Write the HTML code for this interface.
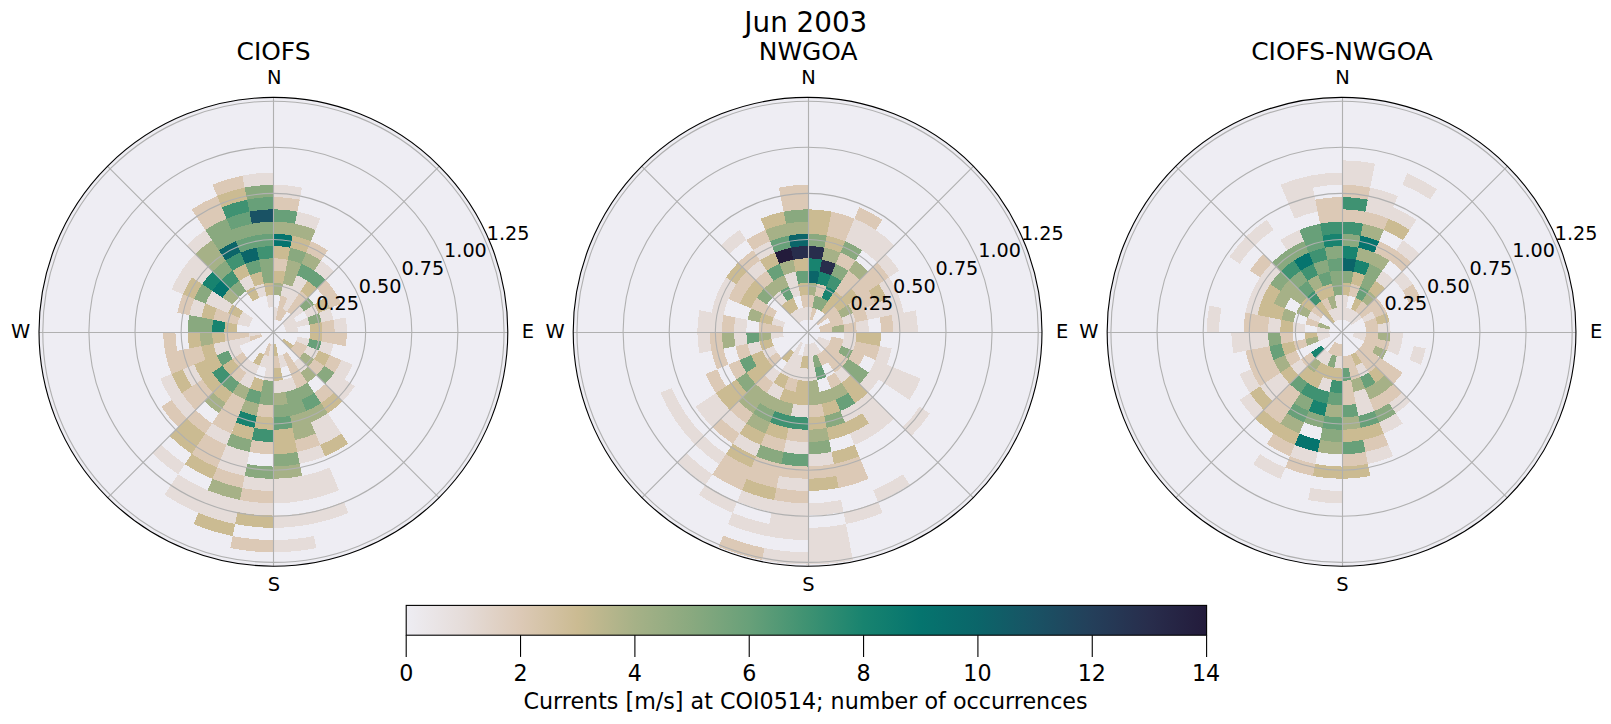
<!DOCTYPE html><html><head><meta charset="utf-8"><title>Jun 2003</title><style>html,body{margin:0;padding:0;background:#fff}svg{display:block}text{font-family:"DejaVu Sans","Liberation Sans",sans-serif;fill:#000}</style></head><body>
<svg width="1611" height="724" viewBox="0 0 1611 724">
<rect width="1611" height="724" fill="#fff"/>
<text x="805.8" y="31.8" font-size="27.78" text-anchor="middle">Jun 2003</text>
<g>
<text x="273.5" y="59.7" font-size="24.9" text-anchor="middle">CIOFS</text>
<circle cx="273.4" cy="331.8" r="234.4" fill="#eeedf3"/>
<g shape-rendering="crispEdges">
<path fill="#e5dcd9" d="M273.40,319.55L273.40,307.30A24.50,24.50 0 0 1 278.18,307.77L275.79,319.79A12.25,12.25 0 0 0 273.40,319.55ZM273.40,197.05L273.40,184.80A147.00,147.00 0 0 1 302.08,187.62L299.69,199.64A134.75,134.75 0 0 0 273.40,197.05ZM280.57,295.76L282.96,283.74A49.00,49.00 0 0 1 292.15,286.53L287.46,297.85A36.75,36.75 0 0 0 280.57,295.76ZM294.91,223.67L297.30,211.65A122.50,122.50 0 0 1 320.28,218.62L315.59,229.94A110.25,110.25 0 0 0 294.91,223.67ZM282.78,309.16L296.84,275.21A61.25,61.25 0 0 1 307.43,280.87L287.01,311.43A24.50,24.50 0 0 0 282.78,309.16ZM314.23,270.69L321.04,260.50A85.75,85.75 0 0 1 334.03,271.17L325.37,279.83A73.50,73.50 0 0 0 314.23,270.69ZM282.06,323.14L299.39,305.81A36.75,36.75 0 0 1 303.96,311.38L283.59,324.99A12.25,12.25 0 0 0 282.06,323.14ZM283.59,324.99L293.77,318.19A24.50,24.50 0 0 1 296.04,322.42L284.72,327.11A12.25,12.25 0 0 0 283.59,324.99ZM303.96,311.38L314.14,304.58A49.00,49.00 0 0 1 318.67,313.05L307.35,317.74A36.75,36.75 0 0 0 303.96,311.38ZM284.72,327.11L307.35,317.74A36.75,36.75 0 0 1 309.44,324.63L285.41,329.41A12.25,12.25 0 0 0 284.72,327.11ZM318.67,313.05L329.99,308.36A61.25,61.25 0 0 1 333.47,319.85L321.46,322.24A49.00,49.00 0 0 0 318.67,313.05ZM285.41,329.41L297.43,327.02A24.50,24.50 0 0 1 297.90,331.80L285.65,331.80A12.25,12.25 0 0 0 285.41,329.41ZM333.47,319.85L345.49,317.46A73.50,73.50 0 0 1 346.90,331.80L334.65,331.80A61.25,61.25 0 0 0 333.47,319.85ZM297.43,336.58L309.44,338.97A36.75,36.75 0 0 1 307.35,345.86L296.04,341.18A24.50,24.50 0 0 0 297.43,336.58ZM321.46,341.36L333.47,343.75A61.25,61.25 0 0 1 329.99,355.24L318.67,350.55A49.00,49.00 0 0 0 321.46,341.36ZM307.35,345.86L318.67,350.55A49.00,49.00 0 0 1 314.14,359.02L303.96,352.22A36.75,36.75 0 0 0 307.35,345.86ZM341.31,359.93L352.62,364.62A85.75,85.75 0 0 1 344.70,379.44L334.51,372.63A73.50,73.50 0 0 0 341.31,359.93ZM334.51,372.63L354.88,386.25A98.00,98.00 0 0 1 342.70,401.10L325.37,383.77A73.50,73.50 0 0 0 334.51,372.63ZM299.39,357.79L308.05,366.45A49.00,49.00 0 0 1 300.62,372.54L293.82,362.36A36.75,36.75 0 0 0 299.39,357.79ZM327.85,413.28L341.46,433.66A122.50,122.50 0 0 1 320.28,444.98L310.90,422.34A98.00,98.00 0 0 0 327.85,413.28ZM282.78,354.44L287.46,365.75A36.75,36.75 0 0 1 280.57,367.84L278.18,355.83A24.50,24.50 0 0 0 282.78,354.44ZM292.15,377.07L296.84,388.39A61.25,61.25 0 0 1 285.35,391.87L282.96,379.86A49.00,49.00 0 0 0 292.15,377.07ZM320.28,444.98L324.97,456.29A134.75,134.75 0 0 1 299.69,463.96L297.30,451.95A122.50,122.50 0 0 0 320.28,444.98ZM329.65,467.61L339.03,490.25A171.50,171.50 0 0 1 306.86,500.00L302.08,475.98A147.00,147.00 0 0 0 329.65,467.61ZM343.72,501.56L348.41,512.88A196.00,196.00 0 0 1 311.64,524.03L309.25,512.02A183.75,183.75 0 0 0 343.72,501.56ZM282.96,379.86L285.35,391.87A61.25,61.25 0 0 1 273.40,393.05L273.40,380.80A49.00,49.00 0 0 0 282.96,379.86ZM302.08,475.98L306.86,500.00A171.50,171.50 0 0 1 273.40,503.30L273.40,478.80A147.00,147.00 0 0 0 302.08,475.98ZM309.25,512.02L311.64,524.03A196.00,196.00 0 0 1 273.40,527.80L273.40,515.55A183.75,183.75 0 0 0 309.25,512.02ZM314.03,536.05L316.42,548.06A220.50,220.50 0 0 1 273.40,552.30L273.40,540.05A208.25,208.25 0 0 0 314.03,536.05ZM273.40,344.05L273.40,380.80A49.00,49.00 0 0 1 263.84,379.86L271.01,343.81A12.25,12.25 0 0 0 273.40,344.05ZM273.40,478.80L273.40,491.05A159.25,159.25 0 0 1 242.33,487.99L244.72,475.98A147.00,147.00 0 0 0 273.40,478.80ZM273.40,503.30L273.40,515.55A183.75,183.75 0 0 1 237.55,512.02L239.94,500.00A171.50,171.50 0 0 0 273.40,503.30ZM268.62,355.83L266.23,367.84A36.75,36.75 0 0 1 259.34,365.75L264.02,354.44A24.50,24.50 0 0 0 268.62,355.83ZM249.50,451.95L244.72,475.98A147.00,147.00 0 0 1 217.15,467.61L226.52,444.98A122.50,122.50 0 0 0 249.50,451.95ZM239.94,500.00L235.16,524.03A196.00,196.00 0 0 1 198.39,512.88L207.77,490.25A171.50,171.50 0 0 0 239.94,500.00ZM259.34,365.75L249.96,388.39A61.25,61.25 0 0 1 239.37,382.73L252.98,362.36A36.75,36.75 0 0 0 259.34,365.75ZM231.21,433.66L226.52,444.98A122.50,122.50 0 0 1 205.34,433.66L212.15,423.47A110.25,110.25 0 0 0 231.21,433.66ZM207.77,490.25L198.39,512.88A196.00,196.00 0 0 1 164.51,494.77L178.12,474.40A171.50,171.50 0 0 0 207.77,490.25ZM252.98,362.36L246.18,372.54A49.00,49.00 0 0 1 238.75,366.45L247.41,357.79A36.75,36.75 0 0 0 252.98,362.36ZM184.93,464.21L178.12,474.40A171.50,171.50 0 0 1 152.13,453.07L160.79,444.41A159.25,159.25 0 0 0 184.93,464.21ZM195.44,409.76L186.78,418.42A122.50,122.50 0 0 1 171.54,399.86L181.73,393.05A110.25,110.25 0 0 0 195.44,409.76ZM242.84,352.22L232.66,359.02A49.00,49.00 0 0 1 228.13,350.55L239.45,345.86A36.75,36.75 0 0 0 242.84,352.22ZM202.10,379.44L191.92,386.25A98.00,98.00 0 0 1 182.86,369.30L194.18,364.62A85.75,85.75 0 0 0 202.10,379.44ZM181.73,393.05L171.54,399.86A122.50,122.50 0 0 1 160.22,378.68L171.54,373.99A110.25,110.25 0 0 0 181.73,393.05ZM250.76,341.18L216.81,355.24A61.25,61.25 0 0 1 213.33,343.75L249.37,336.58A24.50,24.50 0 0 0 250.76,341.18ZM261.39,334.19L249.37,336.58A24.50,24.50 0 0 1 248.90,331.80L261.15,331.80A12.25,12.25 0 0 0 261.39,334.19ZM249.37,327.02L237.36,324.63A36.75,36.75 0 0 1 239.45,317.74L250.76,322.42A24.50,24.50 0 0 0 249.37,327.02ZM201.31,317.46L189.30,315.07A85.75,85.75 0 0 1 194.18,298.98L205.49,303.67A73.50,73.50 0 0 0 201.31,317.46ZM250.76,322.42L239.45,317.74A36.75,36.75 0 0 1 242.84,311.38L253.03,318.19A24.50,24.50 0 0 0 250.76,322.42ZM228.13,313.05L205.49,303.67A73.50,73.50 0 0 1 212.29,290.97L232.66,304.58A49.00,49.00 0 0 0 228.13,313.05ZM182.86,294.30L171.54,289.61A110.25,110.25 0 0 1 181.73,270.55L191.92,277.35A98.00,98.00 0 0 0 182.86,294.30ZM202.10,284.16L181.73,270.55A110.25,110.25 0 0 1 195.44,253.84L212.77,271.17A85.75,85.75 0 0 0 202.10,284.16ZM195.44,253.84L186.78,245.18A122.50,122.50 0 0 1 205.34,229.94L212.15,240.13A110.25,110.25 0 0 0 195.44,253.84ZM246.18,291.06L239.37,280.87A61.25,61.25 0 0 1 249.96,275.21L254.65,286.53A49.00,49.00 0 0 0 246.18,291.06ZM259.34,297.85L254.65,286.53A49.00,49.00 0 0 1 263.84,283.74L266.23,295.76A36.75,36.75 0 0 0 259.34,297.85ZM268.62,307.77L266.23,295.76A36.75,36.75 0 0 1 273.40,295.05L273.40,307.30A24.50,24.50 0 0 0 268.62,307.77ZM244.72,187.62L242.33,175.61A159.25,159.25 0 0 1 273.40,172.55L273.40,184.80A147.00,147.00 0 0 0 244.72,187.62Z"/>
<path fill="#dcc9b6" d="M273.40,270.55L273.40,258.30A73.50,73.50 0 0 1 287.74,259.71L285.35,271.73A61.25,61.25 0 0 0 273.40,270.55ZM273.40,209.30L273.40,197.05A134.75,134.75 0 0 1 299.69,199.64L297.30,211.65A122.50,122.50 0 0 0 273.40,209.30ZM275.79,319.79L280.57,295.76A36.75,36.75 0 0 1 287.46,297.85L278.09,320.48A12.25,12.25 0 0 0 275.79,319.79ZM278.09,320.48L282.78,309.16A24.50,24.50 0 0 1 287.01,311.43L280.21,321.61A12.25,12.25 0 0 0 278.09,320.48ZM306.22,252.58L310.90,241.26A98.00,98.00 0 0 1 327.85,250.32L321.04,260.50A85.75,85.75 0 0 0 306.22,252.58ZM287.01,311.43L300.62,291.06A49.00,49.00 0 0 1 308.05,297.15L290.72,314.48A24.50,24.50 0 0 0 287.01,311.43ZM316.71,288.49L325.37,279.83A73.50,73.50 0 0 1 334.51,290.97L324.33,297.77A61.25,61.25 0 0 0 316.71,288.49ZM324.33,297.77L334.51,290.97A73.50,73.50 0 0 1 341.31,303.67L329.99,308.36A61.25,61.25 0 0 0 324.33,297.77ZM321.46,322.24L333.47,319.85A61.25,61.25 0 0 1 334.65,331.80L322.40,331.80A49.00,49.00 0 0 0 321.46,322.24ZM322.40,331.80L346.90,331.80A73.50,73.50 0 0 1 345.49,346.14L321.46,341.36A49.00,49.00 0 0 0 322.40,331.80ZM296.04,341.18L307.35,345.86A36.75,36.75 0 0 1 303.96,352.22L293.77,345.41A24.50,24.50 0 0 0 296.04,341.18ZM329.99,355.24L341.31,359.93A73.50,73.50 0 0 1 334.51,372.63L324.33,365.83A61.25,61.25 0 0 0 329.99,355.24ZM293.77,345.41L303.96,352.22A36.75,36.75 0 0 1 299.39,357.79L290.72,349.12A24.50,24.50 0 0 0 293.77,345.41ZM314.14,359.02L324.33,365.83A61.25,61.25 0 0 1 316.71,375.11L308.05,366.45A49.00,49.00 0 0 0 314.14,359.02ZM325.37,383.77L334.03,392.43A85.75,85.75 0 0 1 321.04,403.10L314.23,392.91A73.50,73.50 0 0 0 325.37,383.77ZM287.01,352.17L307.43,382.73A61.25,61.25 0 0 1 296.84,388.39L282.78,354.44A24.50,24.50 0 0 0 287.01,352.17ZM315.59,433.66L320.28,444.98A122.50,122.50 0 0 1 297.30,451.95L294.91,439.93A110.25,110.25 0 0 0 315.59,433.66ZM278.18,355.83L280.57,367.84A36.75,36.75 0 0 1 273.40,368.55L273.40,356.30A24.50,24.50 0 0 0 278.18,355.83ZM273.40,405.30L273.40,417.55A85.75,85.75 0 0 1 256.67,415.90L259.06,403.89A73.50,73.50 0 0 0 273.40,405.30ZM273.40,442.05L273.40,454.30A122.50,122.50 0 0 1 249.50,451.95L251.89,439.93A110.25,110.25 0 0 0 273.40,442.05ZM273.40,491.05L273.40,503.30A171.50,171.50 0 0 1 239.94,500.00L242.33,487.99A159.25,159.25 0 0 0 273.40,491.05ZM273.40,540.05L273.40,552.30A220.50,220.50 0 0 1 230.38,548.06L232.77,536.05A208.25,208.25 0 0 0 273.40,540.05ZM271.01,343.81L268.62,355.83A24.50,24.50 0 0 1 264.02,354.44L268.71,343.12A12.25,12.25 0 0 0 271.01,343.81ZM244.72,475.98L242.33,487.99A159.25,159.25 0 0 1 212.46,478.93L217.15,467.61A147.00,147.00 0 0 0 244.72,475.98ZM245.27,399.71L231.21,433.66A110.25,110.25 0 0 1 212.15,423.47L232.57,392.91A73.50,73.50 0 0 0 245.27,399.71ZM226.52,444.98L217.15,467.61A147.00,147.00 0 0 1 191.73,454.03L205.34,433.66A122.50,122.50 0 0 0 226.52,444.98ZM246.18,372.54L239.37,382.73A61.25,61.25 0 0 1 230.09,375.11L238.75,366.45A49.00,49.00 0 0 0 246.18,372.54ZM212.15,423.47L205.34,433.66A122.50,122.50 0 0 1 186.78,418.42L195.44,409.76A110.25,110.25 0 0 0 212.15,423.47ZM247.41,357.79L238.75,366.45A49.00,49.00 0 0 1 232.66,359.02L242.84,352.22A36.75,36.75 0 0 0 247.41,357.79ZM212.77,392.43L195.44,409.76A110.25,110.25 0 0 1 181.73,393.05L202.10,379.44A85.75,85.75 0 0 0 212.77,392.43ZM186.78,418.42L178.12,427.08A134.75,134.75 0 0 1 161.36,406.66L171.54,399.86A122.50,122.50 0 0 0 186.78,418.42ZM262.08,336.49L250.76,341.18A24.50,24.50 0 0 1 249.37,336.58L261.39,334.19A12.25,12.25 0 0 0 262.08,336.49ZM205.49,359.93L171.54,373.99A110.25,110.25 0 0 1 165.27,353.31L201.31,346.14A73.50,73.50 0 0 0 205.49,359.93ZM249.37,336.58L225.34,341.36A49.00,49.00 0 0 1 224.40,331.80L248.90,331.80A24.50,24.50 0 0 0 249.37,336.58ZM177.28,350.92L165.27,353.31A110.25,110.25 0 0 1 163.15,331.80L175.40,331.80A98.00,98.00 0 0 0 177.28,350.92ZM237.36,324.63L213.33,319.85A61.25,61.25 0 0 1 216.81,308.36L239.45,317.74A36.75,36.75 0 0 0 237.36,324.63ZM189.30,315.07L177.28,312.68A98.00,98.00 0 0 1 182.86,294.30L194.18,298.98A85.75,85.75 0 0 0 189.30,315.07ZM205.34,229.94L191.73,209.57A147.00,147.00 0 0 1 217.15,195.99L226.52,218.62A122.50,122.50 0 0 0 205.34,229.94ZM217.15,195.99L212.46,184.67A159.25,159.25 0 0 1 242.33,175.61L244.72,187.62A147.00,147.00 0 0 0 217.15,195.99Z"/>
<path fill="#cbbb92" d="M273.40,282.80L273.40,270.55A61.25,61.25 0 0 1 285.35,271.73L282.96,283.74A49.00,49.00 0 0 0 273.40,282.80ZM273.40,258.30L273.40,246.05A85.75,85.75 0 0 1 290.13,247.70L287.74,259.71A73.50,73.50 0 0 0 273.40,258.30ZM290.13,247.70L292.52,235.68A98.00,98.00 0 0 1 310.90,241.26L306.22,252.58A85.75,85.75 0 0 0 290.13,247.70ZM300.62,291.06L307.43,280.87A61.25,61.25 0 0 1 316.71,288.49L308.05,297.15A49.00,49.00 0 0 0 300.62,291.06ZM314.14,304.58L324.33,297.77A61.25,61.25 0 0 1 329.99,308.36L318.67,313.05A49.00,49.00 0 0 0 314.14,304.58ZM309.44,324.63L321.46,322.24A49.00,49.00 0 0 1 322.40,331.80L310.15,331.80A36.75,36.75 0 0 0 309.44,324.63ZM310.15,331.80L322.40,331.80A49.00,49.00 0 0 1 321.46,341.36L309.44,338.97A36.75,36.75 0 0 0 310.15,331.80ZM318.67,350.55L329.99,355.24A61.25,61.25 0 0 1 324.33,365.83L314.14,359.02A49.00,49.00 0 0 0 318.67,350.55ZM283.59,338.61L293.77,345.41A24.50,24.50 0 0 1 290.72,349.12L282.06,340.46A12.25,12.25 0 0 0 283.59,338.61ZM334.03,392.43L342.70,401.10A98.00,98.00 0 0 1 327.85,413.28L321.04,403.10A85.75,85.75 0 0 0 334.03,392.43ZM341.46,433.66L348.26,443.84A134.75,134.75 0 0 1 324.97,456.29L320.28,444.98A122.50,122.50 0 0 0 341.46,433.66ZM275.79,343.81L278.18,355.83A24.50,24.50 0 0 1 273.40,356.30L273.40,344.05A12.25,12.25 0 0 0 275.79,343.81ZM280.57,367.84L282.96,379.86A49.00,49.00 0 0 1 273.40,380.80L273.40,368.55A36.75,36.75 0 0 0 280.57,367.84ZM292.52,427.92L297.30,451.95A122.50,122.50 0 0 1 273.40,454.30L273.40,429.80A98.00,98.00 0 0 0 292.52,427.92ZM273.40,417.55L273.40,429.80A98.00,98.00 0 0 1 254.28,427.92L256.67,415.90A85.75,85.75 0 0 0 273.40,417.55ZM273.40,515.55L273.40,527.80A196.00,196.00 0 0 1 235.16,524.03L237.55,512.02A183.75,183.75 0 0 0 273.40,515.55ZM263.84,379.86L261.45,391.87A61.25,61.25 0 0 1 249.96,388.39L254.65,377.07A49.00,49.00 0 0 0 263.84,379.86ZM254.28,427.92L251.89,439.93A110.25,110.25 0 0 1 231.21,433.66L235.90,422.34A98.00,98.00 0 0 0 254.28,427.92ZM235.16,524.03L232.77,536.05A208.25,208.25 0 0 1 193.71,524.20L198.39,512.88A196.00,196.00 0 0 0 235.16,524.03ZM264.02,354.44L259.34,365.75A36.75,36.75 0 0 1 252.98,362.36L259.79,352.17A24.50,24.50 0 0 0 264.02,354.44ZM217.15,467.61L212.46,478.93A159.25,159.25 0 0 1 184.93,464.21L191.73,454.03A147.00,147.00 0 0 0 217.15,467.61ZM232.57,392.91L225.76,403.10A85.75,85.75 0 0 1 212.77,392.43L221.43,383.77A73.50,73.50 0 0 0 232.57,392.91ZM205.34,433.66L191.73,454.03A147.00,147.00 0 0 1 169.46,435.74L186.78,418.42A122.50,122.50 0 0 0 205.34,433.66ZM238.75,366.45L230.09,375.11A61.25,61.25 0 0 1 222.47,365.83L232.66,359.02A49.00,49.00 0 0 0 238.75,366.45ZM221.43,383.77L212.77,392.43A85.75,85.75 0 0 1 202.10,379.44L212.29,372.63A73.50,73.50 0 0 0 221.43,383.77ZM222.47,365.83L202.10,379.44A85.75,85.75 0 0 1 194.18,364.62L216.81,355.24A61.25,61.25 0 0 0 222.47,365.83ZM191.92,386.25L181.73,393.05A110.25,110.25 0 0 1 171.54,373.99L182.86,369.30A98.00,98.00 0 0 0 191.92,386.25ZM216.81,355.24L205.49,359.93A73.50,73.50 0 0 1 201.31,346.14L213.33,343.75A61.25,61.25 0 0 0 216.81,355.24ZM225.34,341.36L213.33,343.75A61.25,61.25 0 0 1 212.15,331.80L224.40,331.80A49.00,49.00 0 0 0 225.34,341.36ZM201.31,346.14L189.30,348.53A85.75,85.75 0 0 1 187.65,331.80L199.90,331.80A73.50,73.50 0 0 0 201.31,346.14ZM236.65,331.80L224.40,331.80A49.00,49.00 0 0 1 225.34,322.24L237.36,324.63A36.75,36.75 0 0 0 236.65,331.80ZM213.33,319.85L201.31,317.46A73.50,73.50 0 0 1 205.49,303.67L216.81,308.36A61.25,61.25 0 0 0 213.33,319.85ZM239.45,317.74L228.13,313.05A49.00,49.00 0 0 1 232.66,304.58L242.84,311.38A36.75,36.75 0 0 0 239.45,317.74ZM194.18,298.98L182.86,294.30A98.00,98.00 0 0 1 191.92,277.35L202.10,284.16A85.75,85.75 0 0 0 194.18,298.98ZM252.98,301.24L246.18,291.06A49.00,49.00 0 0 1 254.65,286.53L259.34,297.85A36.75,36.75 0 0 0 252.98,301.24ZM239.37,280.87L232.57,270.69A73.50,73.50 0 0 1 245.27,263.89L249.96,275.21A61.25,61.25 0 0 0 239.37,280.87ZM254.65,286.53L249.96,275.21A61.25,61.25 0 0 1 261.45,271.73L263.84,283.74A49.00,49.00 0 0 0 254.65,286.53ZM221.83,207.31L217.15,195.99A147.00,147.00 0 0 1 244.72,187.62L247.11,199.64A134.75,134.75 0 0 0 221.83,207.31ZM266.23,295.76L263.84,283.74A49.00,49.00 0 0 1 273.40,282.80L273.40,295.05A36.75,36.75 0 0 0 266.23,295.76Z"/>
<path fill="#a6b187" d="M273.40,295.05L273.40,282.80A49.00,49.00 0 0 1 282.96,283.74L280.57,295.76A36.75,36.75 0 0 0 273.40,295.05ZM273.40,233.80L273.40,221.55A110.25,110.25 0 0 1 294.91,223.67L292.52,235.68A98.00,98.00 0 0 0 273.40,233.80ZM282.96,283.74L287.74,259.71A73.50,73.50 0 0 1 301.53,263.89L292.15,286.53A49.00,49.00 0 0 0 282.96,283.74ZM292.52,235.68L294.91,223.67A110.25,110.25 0 0 1 315.59,229.94L310.90,241.26A98.00,98.00 0 0 0 292.52,235.68ZM301.53,263.89L306.22,252.58A85.75,85.75 0 0 1 321.04,260.50L314.23,270.69A73.50,73.50 0 0 0 301.53,263.89ZM303.96,352.22L314.14,359.02A49.00,49.00 0 0 1 308.05,366.45L299.39,357.79A36.75,36.75 0 0 0 303.96,352.22ZM308.05,366.45L316.71,375.11A61.25,61.25 0 0 1 307.43,382.73L300.62,372.54A49.00,49.00 0 0 0 308.05,366.45ZM321.04,403.10L327.85,413.28A98.00,98.00 0 0 1 310.90,422.34L306.22,411.02A85.75,85.75 0 0 0 321.04,403.10ZM306.22,411.02L315.59,433.66A110.25,110.25 0 0 1 294.91,439.93L290.13,415.90A85.75,85.75 0 0 0 306.22,411.02ZM285.35,391.87L287.74,403.89A73.50,73.50 0 0 1 273.40,405.30L273.40,393.05A61.25,61.25 0 0 0 285.35,391.87ZM299.69,463.96L302.08,475.98A147.00,147.00 0 0 1 273.40,478.80L273.40,466.55A134.75,134.75 0 0 0 299.69,463.96ZM259.06,403.89L256.67,415.90A85.75,85.75 0 0 1 240.58,411.02L245.27,399.71A73.50,73.50 0 0 0 259.06,403.89ZM242.33,487.99L239.94,500.00A171.50,171.50 0 0 1 207.77,490.25L212.46,478.93A159.25,159.25 0 0 0 242.33,487.99ZM249.96,388.39L245.27,399.71A73.50,73.50 0 0 1 232.57,392.91L239.37,382.73A61.25,61.25 0 0 0 249.96,388.39ZM225.76,403.10L218.95,413.28A98.00,98.00 0 0 1 204.10,401.10L212.77,392.43A85.75,85.75 0 0 0 225.76,403.10ZM213.33,343.75L201.31,346.14A73.50,73.50 0 0 1 199.90,331.80L212.15,331.80A61.25,61.25 0 0 0 213.33,343.75ZM232.66,304.58L222.47,297.77A61.25,61.25 0 0 1 230.09,288.49L238.75,297.15A49.00,49.00 0 0 0 232.66,304.58ZM212.77,271.17L195.44,253.84A110.25,110.25 0 0 1 212.15,240.13L225.76,260.50A85.75,85.75 0 0 0 212.77,271.17Z"/>
<path fill="#89a97f" d="M287.74,259.71L290.13,247.70A85.75,85.75 0 0 1 306.22,252.58L301.53,263.89A73.50,73.50 0 0 0 287.74,259.71ZM299.39,305.81L308.05,297.15A49.00,49.00 0 0 1 314.14,304.58L303.96,311.38A36.75,36.75 0 0 0 299.39,305.81ZM307.35,317.74L318.67,313.05A49.00,49.00 0 0 1 321.46,322.24L309.44,324.63A36.75,36.75 0 0 0 307.35,317.74ZM324.33,365.83L334.51,372.63A73.50,73.50 0 0 1 325.37,383.77L316.71,375.11A61.25,61.25 0 0 0 324.33,365.83ZM307.43,382.73L314.23,392.91A73.50,73.50 0 0 1 301.53,399.71L296.84,388.39A61.25,61.25 0 0 0 307.43,382.73ZM296.84,388.39L306.22,411.02A85.75,85.75 0 0 1 290.13,415.90L285.35,391.87A61.25,61.25 0 0 0 296.84,388.39ZM287.74,403.89L290.13,415.90A85.75,85.75 0 0 1 273.40,417.55L273.40,405.30A73.50,73.50 0 0 0 287.74,403.89ZM297.30,451.95L299.69,463.96A134.75,134.75 0 0 1 273.40,466.55L273.40,454.30A122.50,122.50 0 0 0 297.30,451.95ZM273.40,380.80L273.40,405.30A73.50,73.50 0 0 1 259.06,403.89L263.84,379.86A49.00,49.00 0 0 0 273.40,380.80ZM273.40,466.55L273.40,478.80A147.00,147.00 0 0 1 244.72,475.98L247.11,463.96A134.75,134.75 0 0 0 273.40,466.55ZM251.89,439.93L249.50,451.95A122.50,122.50 0 0 1 226.52,444.98L231.21,433.66A110.25,110.25 0 0 0 251.89,439.93ZM212.15,331.80L187.65,331.80A85.75,85.75 0 0 1 189.30,315.07L213.33,319.85A61.25,61.25 0 0 0 212.15,331.80ZM205.49,303.67L194.18,298.98A85.75,85.75 0 0 1 202.10,284.16L212.29,290.97A73.50,73.50 0 0 0 205.49,303.67ZM238.75,297.15L230.09,288.49A61.25,61.25 0 0 1 239.37,280.87L246.18,291.06A49.00,49.00 0 0 0 238.75,297.15ZM221.43,279.83L212.77,271.17A85.75,85.75 0 0 1 225.76,260.50L232.57,270.69A73.50,73.50 0 0 0 221.43,279.83ZM218.95,250.32L205.34,229.94A122.50,122.50 0 0 1 226.52,218.62L235.90,241.26A98.00,98.00 0 0 0 218.95,250.32ZM235.90,241.26L231.21,229.94A110.25,110.25 0 0 1 251.89,223.67L254.28,235.68A98.00,98.00 0 0 0 235.90,241.26ZM263.84,283.74L259.06,259.71A73.50,73.50 0 0 1 273.40,258.30L273.40,282.80A49.00,49.00 0 0 0 263.84,283.74ZM254.28,235.68L251.89,223.67A110.25,110.25 0 0 1 273.40,221.55L273.40,233.80A98.00,98.00 0 0 0 254.28,235.68ZM247.11,199.64L244.72,187.62A147.00,147.00 0 0 1 273.40,184.80L273.40,197.05A134.75,134.75 0 0 0 247.11,199.64Z"/>
<path fill="#68a079" d="M273.40,221.55L273.40,209.30A122.50,122.50 0 0 1 297.30,211.65L294.91,223.67A110.25,110.25 0 0 0 273.40,221.55ZM296.84,275.21L301.53,263.89A73.50,73.50 0 0 1 314.23,270.69L307.43,280.87A61.25,61.25 0 0 0 296.84,275.21ZM307.43,280.87L314.23,270.69A73.50,73.50 0 0 1 325.37,279.83L316.71,288.49A61.25,61.25 0 0 0 307.43,280.87ZM309.44,338.97L321.46,341.36A49.00,49.00 0 0 1 318.67,350.55L307.35,345.86A36.75,36.75 0 0 0 309.44,338.97ZM314.23,392.91L321.04,403.10A85.75,85.75 0 0 1 306.22,411.02L301.53,399.71A73.50,73.50 0 0 0 314.23,392.91ZM290.13,415.90L292.52,427.92A98.00,98.00 0 0 1 273.40,429.80L273.40,417.55A85.75,85.75 0 0 0 290.13,415.90ZM261.45,391.87L259.06,403.89A73.50,73.50 0 0 1 245.27,399.71L249.96,388.39A61.25,61.25 0 0 0 261.45,391.87ZM239.37,382.73L232.57,392.91A73.50,73.50 0 0 1 221.43,383.77L230.09,375.11A61.25,61.25 0 0 0 239.37,382.73ZM232.66,359.02L222.47,365.83A61.25,61.25 0 0 1 216.81,355.24L228.13,350.55A49.00,49.00 0 0 0 232.66,359.02ZM249.96,275.21L245.27,263.89A73.50,73.50 0 0 1 259.06,259.71L261.45,271.73A61.25,61.25 0 0 0 249.96,275.21ZM240.58,252.58L235.90,241.26A98.00,98.00 0 0 1 254.28,235.68L256.67,247.70A85.75,85.75 0 0 0 240.58,252.58ZM231.21,229.94L226.52,218.62A122.50,122.50 0 0 1 249.50,211.65L251.89,223.67A110.25,110.25 0 0 0 231.21,229.94ZM256.67,247.70L254.28,235.68A98.00,98.00 0 0 1 273.40,233.80L273.40,246.05A85.75,85.75 0 0 0 256.67,247.70ZM249.50,211.65L247.11,199.64A134.75,134.75 0 0 1 273.40,197.05L273.40,209.30A122.50,122.50 0 0 0 249.50,211.65Z"/>
<path fill="#3f9272" d="M273.40,429.80L273.40,442.05A110.25,110.25 0 0 1 251.89,439.93L254.28,427.92A98.00,98.00 0 0 0 273.40,429.80ZM230.09,375.11L221.43,383.77A73.50,73.50 0 0 1 212.29,372.63L222.47,365.83A61.25,61.25 0 0 0 230.09,375.11ZM230.09,288.49L221.43,279.83A73.50,73.50 0 0 1 232.57,270.69L239.37,280.87A61.25,61.25 0 0 0 230.09,288.49ZM232.57,270.69L225.76,260.50A85.75,85.75 0 0 1 240.58,252.58L245.27,263.89A73.50,73.50 0 0 0 232.57,270.69ZM226.52,218.62L221.83,207.31A134.75,134.75 0 0 1 247.11,199.64L249.50,211.65A122.50,122.50 0 0 0 226.52,218.62ZM259.06,259.71L256.67,247.70A85.75,85.75 0 0 1 273.40,246.05L273.40,258.30A73.50,73.50 0 0 0 259.06,259.71Z"/>
<path fill="#18836f" d="M256.67,415.90L254.28,427.92A98.00,98.00 0 0 1 235.90,422.34L240.58,411.02A85.75,85.75 0 0 0 256.67,415.90ZM224.40,331.80L212.15,331.80A61.25,61.25 0 0 1 213.33,319.85L225.34,322.24A49.00,49.00 0 0 0 224.40,331.80ZM212.29,290.97L202.10,284.16A85.75,85.75 0 0 1 212.77,271.17L221.43,279.83A73.50,73.50 0 0 0 212.29,290.97Z"/>
<path fill="#05746e" d="M273.40,246.05L273.40,233.80A98.00,98.00 0 0 1 292.52,235.68L290.13,247.70A85.75,85.75 0 0 0 273.40,246.05ZM222.47,297.77L212.29,290.97A73.50,73.50 0 0 1 221.43,279.83L230.09,288.49A61.25,61.25 0 0 0 222.47,297.77Z"/>
<path fill="#0b6569" d="M225.76,260.50L218.95,250.32A98.00,98.00 0 0 1 235.90,241.26L240.58,252.58A85.75,85.75 0 0 0 225.76,260.50ZM245.27,263.89L240.58,252.58A85.75,85.75 0 0 1 256.67,247.70L259.06,259.71A73.50,73.50 0 0 0 245.27,263.89Z"/>
<path fill="#195264" d="M251.89,223.67L249.50,211.65A122.50,122.50 0 0 1 273.40,209.30L273.40,221.55A110.25,110.25 0 0 0 251.89,223.67Z"/>
</g>
<path d="M273.5,331.8L273.5,97.40M273.4,332.2L439.15,166.45M273.4,332.45L507.80,332.45M273.4,332.2L439.15,497.95M273.5,331.8L273.5,566.20M273.4,332.2L107.65,497.95M273.4,332.45L39.00,332.45M273.4,332.2L107.65,166.45" stroke="#b0b0b0" stroke-width="1.1" fill="none"/>
<circle cx="273.4" cy="331.8" r="46.12" stroke="#b0b0b0" stroke-width="1.1" fill="none"/>
<circle cx="273.4" cy="331.8" r="92.25" stroke="#b0b0b0" stroke-width="1.1" fill="none"/>
<circle cx="273.4" cy="331.8" r="138.38" stroke="#b0b0b0" stroke-width="1.1" fill="none"/>
<circle cx="273.4" cy="331.8" r="184.50" stroke="#b0b0b0" stroke-width="1.1" fill="none"/>
<circle cx="273.4" cy="331.8" r="230.62" stroke="#b0b0b0" stroke-width="1.1" fill="none"/>
<circle cx="273.4" cy="331.8" r="234.4" stroke="#000" stroke-width="1.1" fill="none"/>
<text x="316.2" y="310.3" font-size="19.2">0.25</text>
<text x="358.8" y="292.7" font-size="19.2">0.50</text>
<text x="401.4" y="275.0" font-size="19.2">0.75</text>
<text x="444.1" y="257.4" font-size="19.2">1.00</text>
<text x="486.7" y="239.7" font-size="19.2">1.25</text>
<text x="274.3" y="83.9" font-size="19.44" text-anchor="middle">N</text>
<text x="273.9" y="590.9" font-size="19.44" text-anchor="middle">S</text>
<text x="521.8" y="337.6" font-size="19.44">E</text>
<text x="20.7" y="337.6" font-size="19.44" text-anchor="middle">W</text>
</g>
<g>
<text x="808.2" y="59.7" font-size="24.9" text-anchor="middle">NWGOA</text>
<circle cx="807.6" cy="331.8" r="234.4" fill="#eeedf3"/>
<g shape-rendering="crispEdges">
<path fill="#e5dcd9" d="M807.60,319.55L807.60,307.30A24.50,24.50 0 0 1 812.38,307.77L809.99,319.79A12.25,12.25 0 0 0 807.60,319.55ZM845.10,241.26L854.48,218.62A122.50,122.50 0 0 1 875.66,229.94L862.05,250.32A98.00,98.00 0 0 0 845.10,241.26ZM862.05,250.32L875.66,229.94A122.50,122.50 0 0 1 894.22,245.18L876.90,262.50A98.00,98.00 0 0 0 862.05,250.32ZM876.90,262.50L885.56,253.84A110.25,110.25 0 0 1 899.27,270.55L889.08,277.35A98.00,98.00 0 0 0 876.90,262.50ZM878.90,284.16L889.08,277.35A98.00,98.00 0 0 1 898.14,294.30L886.82,298.98A85.75,85.75 0 0 0 878.90,284.16ZM841.55,317.74L852.87,313.05A49.00,49.00 0 0 1 855.66,322.24L843.64,324.63A36.75,36.75 0 0 0 841.55,317.74ZM864.19,308.36L898.14,294.30A98.00,98.00 0 0 1 903.72,312.68L867.67,319.85A61.25,61.25 0 0 0 864.19,308.36ZM855.66,322.24L867.67,319.85A61.25,61.25 0 0 1 868.85,331.80L856.60,331.80A49.00,49.00 0 0 0 855.66,322.24ZM891.70,315.07L915.73,310.29A110.25,110.25 0 0 1 917.85,331.80L893.35,331.80A85.75,85.75 0 0 0 891.70,315.07ZM844.35,331.80L856.60,331.80A49.00,49.00 0 0 1 855.66,341.36L843.64,338.97A36.75,36.75 0 0 0 844.35,331.80ZM843.64,338.97L855.66,341.36A49.00,49.00 0 0 1 852.87,350.55L841.55,345.86A36.75,36.75 0 0 0 843.64,338.97ZM879.69,346.14L891.70,348.53A85.75,85.75 0 0 1 886.82,364.62L875.51,359.93A73.50,73.50 0 0 0 879.69,346.14ZM818.92,336.49L830.24,341.18A24.50,24.50 0 0 1 827.97,345.41L817.79,338.61A12.25,12.25 0 0 0 818.92,336.49ZM875.51,359.93L920.78,378.68A122.50,122.50 0 0 1 909.46,399.86L868.71,372.63A73.50,73.50 0 0 0 875.51,359.93ZM817.79,338.61L827.97,345.41A24.50,24.50 0 0 1 824.92,349.12L816.26,340.46A12.25,12.25 0 0 0 817.79,338.61ZM868.71,372.63L878.90,379.44A85.75,85.75 0 0 1 868.23,392.43L859.57,383.77A73.50,73.50 0 0 0 868.71,372.63ZM919.64,406.66L929.83,413.47A147.00,147.00 0 0 1 911.54,435.74L902.88,427.08A134.75,134.75 0 0 0 919.64,406.66ZM842.25,366.45L850.91,375.11A61.25,61.25 0 0 1 841.63,382.73L834.82,372.54A49.00,49.00 0 0 0 842.25,366.45ZM868.23,392.43L894.22,418.42A122.50,122.50 0 0 1 875.66,433.66L855.24,403.10A85.75,85.75 0 0 0 868.23,392.43ZM814.41,341.99L821.21,352.17A24.50,24.50 0 0 1 816.98,354.44L812.29,343.12A12.25,12.25 0 0 0 814.41,341.99ZM855.24,403.10L862.05,413.28A98.00,98.00 0 0 1 845.10,422.34L840.42,411.02A85.75,85.75 0 0 0 855.24,403.10ZM868.85,423.47L875.66,433.66A122.50,122.50 0 0 1 854.48,444.98L849.79,433.66A110.25,110.25 0 0 0 868.85,423.47ZM902.88,474.40L909.69,484.58A183.75,183.75 0 0 1 877.92,501.56L873.23,490.25A171.50,171.50 0 0 0 902.88,474.40ZM812.29,343.12L816.98,354.44A24.50,24.50 0 0 1 812.38,355.83L809.99,343.81A12.25,12.25 0 0 0 812.29,343.12ZM877.92,501.56L882.61,512.88A196.00,196.00 0 0 1 845.84,524.03L843.45,512.02A183.75,183.75 0 0 0 877.92,501.56ZM809.99,343.81L817.16,379.86A49.00,49.00 0 0 1 807.60,380.80L807.60,344.05A12.25,12.25 0 0 0 809.99,343.81ZM831.50,451.95L833.89,463.96A134.75,134.75 0 0 1 807.60,466.55L807.60,454.30A122.50,122.50 0 0 0 831.50,451.95ZM841.06,500.00L843.45,512.02A183.75,183.75 0 0 1 807.60,515.55L807.60,503.30A171.50,171.50 0 0 0 841.06,500.00ZM845.84,524.03L853.01,560.08A232.75,232.75 0 0 1 807.60,564.55L807.60,527.80A196.00,196.00 0 0 0 845.84,524.03ZM807.60,344.05L807.60,356.30A24.50,24.50 0 0 1 802.82,355.83L805.21,343.81A12.25,12.25 0 0 0 807.60,344.05ZM807.60,368.55L807.60,380.80A49.00,49.00 0 0 1 798.04,379.86L800.43,367.84A36.75,36.75 0 0 0 807.60,368.55ZM807.60,405.30L807.60,417.55A85.75,85.75 0 0 1 790.87,415.90L793.26,403.89A73.50,73.50 0 0 0 807.60,405.30ZM807.60,442.05L807.60,454.30A122.50,122.50 0 0 1 783.70,451.95L786.09,439.93A110.25,110.25 0 0 0 807.60,442.05ZM807.60,478.80L807.60,491.05A159.25,159.25 0 0 1 776.53,487.99L778.92,475.98A147.00,147.00 0 0 0 807.60,478.80ZM807.60,503.30L807.60,540.05A208.25,208.25 0 0 1 766.97,536.05L774.14,500.00A171.50,171.50 0 0 0 807.60,503.30ZM807.60,552.30L807.60,564.55A232.75,232.75 0 0 1 762.19,560.08L764.58,548.06A220.50,220.50 0 0 0 807.60,552.30ZM802.82,355.83L798.04,379.86A49.00,49.00 0 0 1 788.85,377.07L798.22,354.44A24.50,24.50 0 0 0 802.82,355.83ZM774.14,500.00L771.75,512.02A183.75,183.75 0 0 1 737.28,501.56L741.97,490.25A171.50,171.50 0 0 0 774.14,500.00ZM769.36,524.03L766.97,536.05A208.25,208.25 0 0 1 727.91,524.20L732.59,512.88A196.00,196.00 0 0 0 769.36,524.03ZM802.91,343.12L788.85,377.07A49.00,49.00 0 0 1 780.38,372.54L800.79,341.99A12.25,12.25 0 0 0 802.91,343.12ZM784.16,388.39L779.47,399.71A73.50,73.50 0 0 1 766.77,392.91L773.57,382.73A61.25,61.25 0 0 0 784.16,388.39ZM760.72,444.98L756.03,456.29A134.75,134.75 0 0 1 732.74,443.84L739.54,433.66A122.50,122.50 0 0 0 760.72,444.98ZM737.28,501.56L732.59,512.88A196.00,196.00 0 0 1 698.71,494.77L705.51,484.58A183.75,183.75 0 0 0 737.28,501.56ZM780.38,372.54L773.57,382.73A61.25,61.25 0 0 1 764.29,375.11L772.95,366.45A49.00,49.00 0 0 0 780.38,372.54ZM746.35,423.47L739.54,433.66A122.50,122.50 0 0 1 720.98,418.42L729.64,409.76A110.25,110.25 0 0 0 746.35,423.47ZM725.93,454.03L719.13,464.21A159.25,159.25 0 0 1 694.99,444.41L703.66,435.74A147.00,147.00 0 0 0 725.93,454.03ZM712.32,474.40L705.51,484.58A183.75,183.75 0 0 1 677.67,461.73L686.33,453.07A171.50,171.50 0 0 0 712.32,474.40ZM729.64,409.76L712.32,427.08A134.75,134.75 0 0 1 695.56,406.66L715.93,393.05A110.25,110.25 0 0 0 729.64,409.76ZM703.66,435.74L694.99,444.41A159.25,159.25 0 0 1 675.19,420.27L685.37,413.47A147.00,147.00 0 0 0 703.66,435.74ZM777.04,352.22L766.86,359.02A49.00,49.00 0 0 1 762.33,350.55L773.65,345.86A36.75,36.75 0 0 0 777.04,352.22ZM685.37,413.47L675.19,420.27A159.25,159.25 0 0 1 660.47,392.74L671.79,388.05A147.00,147.00 0 0 0 685.37,413.47ZM762.33,350.55L751.01,355.24A61.25,61.25 0 0 1 747.53,343.75L759.54,341.36A49.00,49.00 0 0 0 762.33,350.55ZM783.57,336.58L771.56,338.97A36.75,36.75 0 0 1 770.85,331.80L783.10,331.80A24.50,24.50 0 0 0 783.57,336.58ZM747.53,343.75L735.51,346.14A73.50,73.50 0 0 1 734.10,331.80L746.35,331.80A61.25,61.25 0 0 0 747.53,343.75ZM711.48,350.92L699.47,353.31A110.25,110.25 0 0 1 697.35,331.80L709.60,331.80A98.00,98.00 0 0 0 711.48,350.92ZM746.35,331.80L734.10,331.80A73.50,73.50 0 0 1 735.51,317.46L747.53,319.85A61.25,61.25 0 0 0 746.35,331.80ZM721.85,331.80L697.35,331.80A110.25,110.25 0 0 1 699.47,310.29L723.50,315.07A85.75,85.75 0 0 0 721.85,331.80ZM783.57,327.02L771.56,324.63A36.75,36.75 0 0 1 773.65,317.74L784.96,322.42A24.50,24.50 0 0 0 783.57,327.02ZM723.50,315.07L711.48,312.68A98.00,98.00 0 0 1 717.06,294.30L728.38,298.98A85.75,85.75 0 0 0 723.50,315.07ZM728.38,298.98L717.06,294.30A98.00,98.00 0 0 1 726.12,277.35L736.30,284.16A85.75,85.75 0 0 0 728.38,298.98ZM798.94,323.14L790.28,314.48A24.50,24.50 0 0 1 793.99,311.43L800.79,321.61A12.25,12.25 0 0 0 798.94,323.14ZM781.61,305.81L772.95,297.15A49.00,49.00 0 0 1 780.38,291.06L787.18,301.24A36.75,36.75 0 0 0 781.61,305.81ZM755.63,279.83L746.97,271.17A85.75,85.75 0 0 1 759.96,260.50L766.77,270.69A73.50,73.50 0 0 0 755.63,279.83ZM729.64,253.84L720.98,245.18A122.50,122.50 0 0 1 739.54,229.94L746.35,240.13A110.25,110.25 0 0 0 729.64,253.84ZM800.79,321.61L793.99,311.43A24.50,24.50 0 0 1 798.22,309.16L802.91,320.48A12.25,12.25 0 0 0 800.79,321.61ZM759.96,260.50L753.15,250.32A98.00,98.00 0 0 1 770.10,241.26L774.78,252.58A85.75,85.75 0 0 0 759.96,260.50ZM802.91,320.48L798.22,309.16A24.50,24.50 0 0 1 802.82,307.77L805.21,319.79A12.25,12.25 0 0 0 802.91,320.48ZM793.54,297.85L784.16,275.21A61.25,61.25 0 0 1 795.65,271.73L800.43,295.76A36.75,36.75 0 0 0 793.54,297.85ZM805.21,319.79L802.82,307.77A24.50,24.50 0 0 1 807.60,307.30L807.60,319.55A12.25,12.25 0 0 0 805.21,319.79Z"/>
<path fill="#dcc9b6" d="M807.60,307.30L807.60,295.05A36.75,36.75 0 0 1 814.77,295.76L812.38,307.77A24.50,24.50 0 0 0 807.60,307.30ZM809.99,319.79L812.38,307.77A24.50,24.50 0 0 1 816.98,309.16L812.29,320.48A12.25,12.25 0 0 0 809.99,319.79ZM814.77,295.76L817.16,283.74A49.00,49.00 0 0 1 826.35,286.53L821.66,297.85A36.75,36.75 0 0 0 814.77,295.76ZM826.72,235.68L831.50,211.65A122.50,122.50 0 0 1 854.48,218.62L845.10,241.26A98.00,98.00 0 0 0 826.72,235.68ZM835.73,263.89L840.42,252.58A85.75,85.75 0 0 1 855.24,260.50L848.43,270.69A73.50,73.50 0 0 0 835.73,263.89ZM854.48,218.62L859.17,207.31A134.75,134.75 0 0 1 882.46,219.76L875.66,229.94A122.50,122.50 0 0 0 854.48,218.62ZM834.82,291.06L848.43,270.69A73.50,73.50 0 0 1 859.57,279.83L842.25,297.15A49.00,49.00 0 0 0 834.82,291.06ZM816.26,323.14L833.59,305.81A36.75,36.75 0 0 1 838.16,311.38L817.79,324.99A12.25,12.25 0 0 0 816.26,323.14ZM850.91,288.49L876.90,262.50A98.00,98.00 0 0 1 889.08,277.35L858.53,297.77A61.25,61.25 0 0 0 850.91,288.49ZM827.97,318.19L838.16,311.38A36.75,36.75 0 0 1 841.55,317.74L830.24,322.42A24.50,24.50 0 0 0 827.97,318.19ZM848.34,304.58L868.71,290.97A73.50,73.50 0 0 1 875.51,303.67L852.87,313.05A49.00,49.00 0 0 0 848.34,304.58ZM818.92,327.11L841.55,317.74A36.75,36.75 0 0 1 843.64,324.63L819.61,329.41A12.25,12.25 0 0 0 818.92,327.11ZM852.87,313.05L864.19,308.36A61.25,61.25 0 0 1 867.67,319.85L855.66,322.24A49.00,49.00 0 0 0 852.87,313.05ZM819.61,329.41L831.63,327.02A24.50,24.50 0 0 1 832.10,331.80L819.85,331.80A12.25,12.25 0 0 0 819.61,329.41ZM843.64,324.63L855.66,322.24A49.00,49.00 0 0 1 856.60,331.80L844.35,331.80A36.75,36.75 0 0 0 843.64,324.63ZM879.69,317.46L891.70,315.07A85.75,85.75 0 0 1 893.35,331.80L881.10,331.80A73.50,73.50 0 0 0 879.69,317.46ZM831.63,336.58L843.64,338.97A36.75,36.75 0 0 1 841.55,345.86L830.24,341.18A24.50,24.50 0 0 0 831.63,336.58ZM855.66,341.36L879.69,346.14A73.50,73.50 0 0 1 875.51,359.93L852.87,350.55A49.00,49.00 0 0 0 855.66,341.36ZM830.24,341.18L841.55,345.86A36.75,36.75 0 0 1 838.16,352.22L827.97,345.41A24.50,24.50 0 0 0 830.24,341.18ZM852.87,350.55L864.19,355.24A61.25,61.25 0 0 1 858.53,365.83L848.34,359.02A49.00,49.00 0 0 0 852.87,350.55ZM827.97,345.41L848.34,359.02A49.00,49.00 0 0 1 842.25,366.45L824.92,349.12A24.50,24.50 0 0 0 827.97,345.41ZM824.92,349.12L842.25,366.45A49.00,49.00 0 0 1 834.82,372.54L821.21,352.17A24.50,24.50 0 0 0 824.92,349.12ZM821.21,352.17L828.02,362.36A36.75,36.75 0 0 1 821.66,365.75L816.98,354.44A24.50,24.50 0 0 0 821.21,352.17ZM834.82,372.54L841.63,382.73A61.25,61.25 0 0 1 831.04,388.39L826.35,377.07A49.00,49.00 0 0 0 834.82,372.54ZM859.17,456.29L868.54,478.93A159.25,159.25 0 0 1 838.67,487.99L833.89,463.96A134.75,134.75 0 0 0 859.17,456.29ZM821.94,403.89L824.33,415.90A85.75,85.75 0 0 1 807.60,417.55L807.60,405.30A73.50,73.50 0 0 0 821.94,403.89ZM833.89,463.96L836.28,475.98A147.00,147.00 0 0 1 807.60,478.80L807.60,466.55A134.75,134.75 0 0 0 833.89,463.96ZM807.60,429.80L807.60,442.05A110.25,110.25 0 0 1 786.09,439.93L788.48,427.92A98.00,98.00 0 0 0 807.60,429.80ZM807.60,466.55L807.60,478.80A147.00,147.00 0 0 1 778.92,475.98L781.31,463.96A134.75,134.75 0 0 0 807.60,466.55ZM807.60,491.05L807.60,503.30A171.50,171.50 0 0 1 774.14,500.00L776.53,487.99A159.25,159.25 0 0 0 807.60,491.05ZM798.04,379.86L795.65,391.87A61.25,61.25 0 0 1 784.16,388.39L788.85,377.07A49.00,49.00 0 0 0 798.04,379.86ZM786.09,439.93L783.70,451.95A122.50,122.50 0 0 1 760.72,444.98L765.41,433.66A110.25,110.25 0 0 0 786.09,439.93ZM781.31,463.96L776.53,487.99A159.25,159.25 0 0 1 746.66,478.93L756.03,456.29A134.75,134.75 0 0 0 781.31,463.96ZM764.58,548.06L762.19,560.08A232.75,232.75 0 0 1 718.53,546.83L723.22,535.52A220.50,220.50 0 0 0 764.58,548.06ZM751.35,467.61L741.97,490.25A171.50,171.50 0 0 1 712.32,474.40L725.93,454.03A147.00,147.00 0 0 0 751.35,467.61ZM773.57,382.73L766.77,392.91A73.50,73.50 0 0 1 755.63,383.77L764.29,375.11A61.25,61.25 0 0 0 773.57,382.73ZM753.15,413.28L746.35,423.47A110.25,110.25 0 0 1 729.64,409.76L738.30,401.10A98.00,98.00 0 0 0 753.15,413.28ZM739.54,433.66L732.74,443.84A134.75,134.75 0 0 1 712.32,427.08L720.98,418.42A122.50,122.50 0 0 0 739.54,433.66ZM781.61,357.79L772.95,366.45A49.00,49.00 0 0 1 766.86,359.02L777.04,352.22A36.75,36.75 0 0 0 781.61,357.79ZM746.49,372.63L736.30,379.44A85.75,85.75 0 0 1 728.38,364.62L739.69,359.93A73.50,73.50 0 0 0 746.49,372.63ZM726.12,386.25L715.93,393.05A110.25,110.25 0 0 1 705.74,373.99L717.06,369.30A98.00,98.00 0 0 0 726.12,386.25ZM751.01,355.24L739.69,359.93A73.50,73.50 0 0 1 735.51,346.14L747.53,343.75A61.25,61.25 0 0 0 751.01,355.24ZM728.38,364.62L717.06,369.30A98.00,98.00 0 0 1 711.48,350.92L723.50,348.53A85.75,85.75 0 0 0 728.38,364.62ZM723.50,348.53L711.48,350.92A98.00,98.00 0 0 1 709.60,331.80L721.85,331.80A85.75,85.75 0 0 0 723.50,348.53ZM783.10,331.80L758.60,331.80A49.00,49.00 0 0 1 759.54,322.24L783.57,327.02A24.50,24.50 0 0 0 783.10,331.80ZM734.10,331.80L721.85,331.80A85.75,85.75 0 0 1 723.50,315.07L735.51,317.46A73.50,73.50 0 0 0 734.10,331.80ZM773.65,317.74L751.01,308.36A61.25,61.25 0 0 1 756.67,297.77L777.04,311.38A36.75,36.75 0 0 0 773.65,317.74ZM739.69,303.67L728.38,298.98A85.75,85.75 0 0 1 736.30,284.16L746.49,290.97A73.50,73.50 0 0 0 739.69,303.67ZM746.49,290.97L736.30,284.16A85.75,85.75 0 0 1 746.97,271.17L755.63,279.83A73.50,73.50 0 0 0 746.49,290.97ZM764.29,288.49L755.63,279.83A73.50,73.50 0 0 1 766.77,270.69L773.57,280.87A61.25,61.25 0 0 0 764.29,288.49ZM746.97,271.17L738.30,262.50A98.00,98.00 0 0 1 753.15,250.32L759.96,260.50A85.75,85.75 0 0 0 746.97,271.17ZM753.15,250.32L746.35,240.13A110.25,110.25 0 0 1 765.41,229.94L770.10,241.26A98.00,98.00 0 0 0 753.15,250.32ZM802.82,307.77L800.43,295.76A36.75,36.75 0 0 1 807.60,295.05L807.60,307.30A24.50,24.50 0 0 0 802.82,307.77ZM783.70,211.65L778.92,187.62A147.00,147.00 0 0 1 807.60,184.80L807.60,209.30A122.50,122.50 0 0 0 783.70,211.65Z"/>
<path fill="#cbbb92" d="M807.60,233.80L807.60,209.30A122.50,122.50 0 0 1 831.50,211.65L826.72,235.68A98.00,98.00 0 0 0 807.60,233.80ZM824.33,247.70L826.72,235.68A98.00,98.00 0 0 1 845.10,241.26L840.42,252.58A85.75,85.75 0 0 0 824.33,247.70ZM821.21,311.43L834.82,291.06A49.00,49.00 0 0 1 842.25,297.15L824.92,314.48A24.50,24.50 0 0 0 821.21,311.43ZM833.59,305.81L850.91,288.49A61.25,61.25 0 0 1 858.53,297.77L838.16,311.38A36.75,36.75 0 0 0 833.59,305.81ZM868.71,290.97L878.90,284.16A85.75,85.75 0 0 1 886.82,298.98L875.51,303.67A73.50,73.50 0 0 0 868.71,290.97ZM856.60,331.80L881.10,331.80A73.50,73.50 0 0 1 879.69,346.14L855.66,341.36A49.00,49.00 0 0 0 856.60,331.80ZM850.91,375.11L868.23,392.43A85.75,85.75 0 0 1 855.24,403.10L841.63,382.73A61.25,61.25 0 0 0 850.91,375.11ZM862.05,413.28L868.85,423.47A110.25,110.25 0 0 1 849.79,433.66L845.10,422.34A98.00,98.00 0 0 0 862.05,413.28ZM835.73,399.71L840.42,411.02A85.75,85.75 0 0 1 824.33,415.90L821.94,403.89A73.50,73.50 0 0 0 835.73,399.71ZM845.10,422.34L849.79,433.66A110.25,110.25 0 0 1 829.11,439.93L826.72,427.92A98.00,98.00 0 0 0 845.10,422.34ZM854.48,444.98L859.17,456.29A134.75,134.75 0 0 1 833.89,463.96L831.50,451.95A122.50,122.50 0 0 0 854.48,444.98ZM824.33,415.90L826.72,427.92A98.00,98.00 0 0 1 807.60,429.80L807.60,417.55A85.75,85.75 0 0 0 824.33,415.90ZM836.28,475.98L838.67,487.99A159.25,159.25 0 0 1 807.60,491.05L807.60,478.80A147.00,147.00 0 0 0 836.28,475.98ZM807.60,356.30L807.60,368.55A36.75,36.75 0 0 1 800.43,367.84L802.82,355.83A24.50,24.50 0 0 0 807.60,356.30ZM807.60,380.80L807.60,405.30A73.50,73.50 0 0 1 793.26,403.89L798.04,379.86A49.00,49.00 0 0 0 807.60,380.80ZM795.65,391.87L793.26,403.89A73.50,73.50 0 0 1 779.47,399.71L784.16,388.39A61.25,61.25 0 0 0 795.65,391.87ZM788.48,427.92L786.09,439.93A110.25,110.25 0 0 1 765.41,433.66L770.10,422.34A98.00,98.00 0 0 0 788.48,427.92ZM776.53,487.99L774.14,500.00A171.50,171.50 0 0 1 741.97,490.25L746.66,478.93A159.25,159.25 0 0 0 776.53,487.99ZM788.85,377.07L784.16,388.39A61.25,61.25 0 0 1 773.57,382.73L780.38,372.54A49.00,49.00 0 0 0 788.85,377.07ZM765.41,433.66L760.72,444.98A122.50,122.50 0 0 1 739.54,433.66L746.35,423.47A110.25,110.25 0 0 0 765.41,433.66ZM756.03,456.29L751.35,467.61A147.00,147.00 0 0 1 725.93,454.03L732.74,443.84A134.75,134.75 0 0 0 756.03,456.29ZM793.99,352.17L787.18,362.36A36.75,36.75 0 0 1 781.61,357.79L790.28,349.12A24.50,24.50 0 0 0 793.99,352.17ZM772.95,366.45L755.63,383.77A73.50,73.50 0 0 1 746.49,372.63L766.86,359.02A49.00,49.00 0 0 0 772.95,366.45ZM746.97,392.43L729.64,409.76A110.25,110.25 0 0 1 715.93,393.05L736.30,379.44A85.75,85.75 0 0 0 746.97,392.43ZM766.86,359.02L756.67,365.83A61.25,61.25 0 0 1 751.01,355.24L762.33,350.55A49.00,49.00 0 0 0 766.86,359.02ZM773.65,345.86L762.33,350.55A49.00,49.00 0 0 1 759.54,341.36L771.56,338.97A36.75,36.75 0 0 0 773.65,345.86ZM771.56,324.63L759.54,322.24A49.00,49.00 0 0 1 762.33,313.05L773.65,317.74A36.75,36.75 0 0 0 771.56,324.63ZM751.01,308.36L739.69,303.67A73.50,73.50 0 0 1 746.49,290.97L756.67,297.77A61.25,61.25 0 0 0 751.01,308.36ZM756.67,297.77L746.49,290.97A73.50,73.50 0 0 1 755.63,279.83L764.29,288.49A61.25,61.25 0 0 0 756.67,297.77ZM736.30,284.16L726.12,277.35A98.00,98.00 0 0 1 738.30,262.50L746.97,271.17A85.75,85.75 0 0 0 736.30,284.16ZM790.28,314.48L781.61,305.81A36.75,36.75 0 0 1 787.18,301.24L793.99,311.43A24.50,24.50 0 0 0 790.28,314.48ZM793.99,311.43L787.18,301.24A36.75,36.75 0 0 1 793.54,297.85L798.22,309.16A24.50,24.50 0 0 0 793.99,311.43ZM766.77,270.69L759.96,260.50A85.75,85.75 0 0 1 774.78,252.58L779.47,263.89A73.50,73.50 0 0 0 766.77,270.69ZM765.41,229.94L760.72,218.62A122.50,122.50 0 0 1 783.70,211.65L786.09,223.67A110.25,110.25 0 0 0 765.41,229.94ZM800.43,295.76L798.04,283.74A49.00,49.00 0 0 1 807.60,282.80L807.60,295.05A36.75,36.75 0 0 0 800.43,295.76ZM795.65,271.73L793.26,259.71A73.50,73.50 0 0 1 807.60,258.30L807.60,270.55A61.25,61.25 0 0 0 795.65,271.73Z"/>
<path fill="#a6b187" d="M807.60,295.05L807.60,282.80A49.00,49.00 0 0 1 817.16,283.74L814.77,295.76A36.75,36.75 0 0 0 807.60,295.05ZM821.94,259.71L824.33,247.70A85.75,85.75 0 0 1 840.42,252.58L835.73,263.89A73.50,73.50 0 0 0 821.94,259.71ZM848.43,270.69L855.24,260.50A85.75,85.75 0 0 1 868.23,271.17L859.57,279.83A73.50,73.50 0 0 0 848.43,270.69ZM838.16,311.38L848.34,304.58A49.00,49.00 0 0 1 852.87,313.05L841.55,317.74A36.75,36.75 0 0 0 838.16,311.38ZM831.63,327.02L843.64,324.63A36.75,36.75 0 0 1 844.35,331.80L832.10,331.80A24.50,24.50 0 0 0 831.63,327.02ZM841.63,382.73L848.43,392.91A73.50,73.50 0 0 1 835.73,399.71L831.04,388.39A61.25,61.25 0 0 0 841.63,382.73ZM831.04,388.39L835.73,399.71A73.50,73.50 0 0 1 821.94,403.89L819.55,391.87A61.25,61.25 0 0 0 831.04,388.39ZM817.16,379.86L821.94,403.89A73.50,73.50 0 0 1 807.60,405.30L807.60,380.80A49.00,49.00 0 0 0 817.16,379.86ZM826.72,427.92L829.11,439.93A110.25,110.25 0 0 1 807.60,442.05L807.60,429.80A98.00,98.00 0 0 0 826.72,427.92ZM793.26,403.89L790.87,415.90A85.75,85.75 0 0 1 774.78,411.02L779.47,399.71A73.50,73.50 0 0 0 793.26,403.89ZM779.47,399.71L774.78,411.02A85.75,85.75 0 0 1 759.96,403.10L766.77,392.91A73.50,73.50 0 0 0 779.47,399.71ZM770.10,422.34L765.41,433.66A110.25,110.25 0 0 1 746.35,423.47L753.15,413.28A98.00,98.00 0 0 0 770.10,422.34ZM766.77,392.91L753.15,413.28A98.00,98.00 0 0 1 738.30,401.10L755.63,383.77A73.50,73.50 0 0 0 766.77,392.91ZM771.56,338.97L759.54,341.36A49.00,49.00 0 0 1 758.60,331.80L770.85,331.80A36.75,36.75 0 0 0 771.56,338.97ZM735.51,346.14L723.50,348.53A85.75,85.75 0 0 1 721.85,331.80L734.10,331.80A73.50,73.50 0 0 0 735.51,346.14ZM759.54,322.24L747.53,319.85A61.25,61.25 0 0 1 751.01,308.36L762.33,313.05A49.00,49.00 0 0 0 759.54,322.24ZM772.95,297.15L764.29,288.49A61.25,61.25 0 0 1 773.57,280.87L780.38,291.06A49.00,49.00 0 0 0 772.95,297.15ZM780.38,291.06L773.57,280.87A61.25,61.25 0 0 1 784.16,275.21L788.85,286.53A49.00,49.00 0 0 0 780.38,291.06ZM784.16,275.21L779.47,263.89A73.50,73.50 0 0 1 793.26,259.71L795.65,271.73A61.25,61.25 0 0 0 784.16,275.21ZM770.10,241.26L765.41,229.94A110.25,110.25 0 0 1 786.09,223.67L788.48,235.68A98.00,98.00 0 0 0 770.10,241.26ZM788.48,235.68L786.09,223.67A110.25,110.25 0 0 1 807.60,221.55L807.60,233.80A98.00,98.00 0 0 0 788.48,235.68Z"/>
<path fill="#89a97f" d="M807.60,246.05L807.60,233.80A98.00,98.00 0 0 1 826.72,235.68L824.33,247.70A85.75,85.75 0 0 0 807.60,246.05ZM812.38,307.77L814.77,295.76A36.75,36.75 0 0 1 821.66,297.85L816.98,309.16A24.50,24.50 0 0 0 812.38,307.77ZM816.98,309.16L821.66,297.85A36.75,36.75 0 0 1 828.02,301.24L821.21,311.43A24.50,24.50 0 0 0 816.98,309.16ZM831.04,275.21L835.73,263.89A73.50,73.50 0 0 1 848.43,270.69L841.63,280.87A61.25,61.25 0 0 0 831.04,275.21ZM840.42,252.58L845.10,241.26A98.00,98.00 0 0 1 862.05,250.32L855.24,260.50A85.75,85.75 0 0 0 840.42,252.58ZM841.55,345.86L852.87,350.55A49.00,49.00 0 0 1 848.34,359.02L838.16,352.22A36.75,36.75 0 0 0 841.55,345.86ZM848.34,359.02L868.71,372.63A73.50,73.50 0 0 1 859.57,383.77L842.25,366.45A49.00,49.00 0 0 0 848.34,359.02ZM816.98,354.44L821.66,365.75A36.75,36.75 0 0 1 814.77,367.84L812.38,355.83A24.50,24.50 0 0 0 816.98,354.44ZM840.42,411.02L845.10,422.34A98.00,98.00 0 0 1 826.72,427.92L824.33,415.90A85.75,85.75 0 0 0 840.42,411.02ZM829.11,439.93L831.50,451.95A122.50,122.50 0 0 1 807.60,454.30L807.60,442.05A110.25,110.25 0 0 0 829.11,439.93ZM783.70,451.95L781.31,463.96A134.75,134.75 0 0 1 756.03,456.29L760.72,444.98A122.50,122.50 0 0 0 783.70,451.95ZM774.78,411.02L770.10,422.34A98.00,98.00 0 0 1 753.15,413.28L759.96,403.10A85.75,85.75 0 0 0 774.78,411.02ZM755.63,383.77L746.97,392.43A85.75,85.75 0 0 1 736.30,379.44L746.49,372.63A73.50,73.50 0 0 0 755.63,383.77ZM766.86,304.58L756.67,297.77A61.25,61.25 0 0 1 764.29,288.49L772.95,297.15A49.00,49.00 0 0 0 766.86,304.58ZM786.09,223.67L783.70,211.65A122.50,122.50 0 0 1 807.60,209.30L807.60,221.55A110.25,110.25 0 0 0 786.09,223.67Z"/>
<path fill="#68a079" d="M848.43,392.91L855.24,403.10A85.75,85.75 0 0 1 840.42,411.02L835.73,399.71A73.50,73.50 0 0 0 848.43,392.91ZM821.66,365.75L826.35,377.07A49.00,49.00 0 0 1 817.16,379.86L814.77,367.84A36.75,36.75 0 0 0 821.66,365.75ZM807.60,454.30L807.60,466.55A134.75,134.75 0 0 1 781.31,463.96L783.70,451.95A122.50,122.50 0 0 0 807.60,454.30ZM756.67,365.83L746.49,372.63A73.50,73.50 0 0 1 739.69,359.93L751.01,355.24A61.25,61.25 0 0 0 756.67,365.83ZM759.54,341.36L747.53,343.75A61.25,61.25 0 0 1 746.35,331.80L758.60,331.80A49.00,49.00 0 0 0 759.54,341.36ZM787.18,301.24L780.38,291.06A49.00,49.00 0 0 1 788.85,286.53L793.54,297.85A36.75,36.75 0 0 0 787.18,301.24ZM773.57,280.87L766.77,270.69A73.50,73.50 0 0 1 779.47,263.89L784.16,275.21A61.25,61.25 0 0 0 773.57,280.87ZM774.78,252.58L770.10,241.26A98.00,98.00 0 0 1 788.48,235.68L790.87,247.70A85.75,85.75 0 0 0 774.78,252.58ZM798.04,283.74L795.65,271.73A61.25,61.25 0 0 1 807.60,270.55L807.60,282.80A49.00,49.00 0 0 0 798.04,283.74Z"/>
<path fill="#3f9272" d="M826.35,286.53L831.04,275.21A61.25,61.25 0 0 1 841.63,280.87L834.82,291.06A49.00,49.00 0 0 0 826.35,286.53ZM807.60,417.55L807.60,429.80A98.00,98.00 0 0 1 788.48,427.92L790.87,415.90A85.75,85.75 0 0 0 807.60,417.55ZM790.87,415.90L788.48,427.92A98.00,98.00 0 0 1 770.10,422.34L774.78,411.02A85.75,85.75 0 0 0 790.87,415.90Z"/>
<path fill="#18836f" d="M807.60,270.55L807.60,258.30A73.50,73.50 0 0 1 821.94,259.71L819.55,271.73A61.25,61.25 0 0 0 807.60,270.55ZM817.16,283.74L819.55,271.73A61.25,61.25 0 0 1 831.04,275.21L826.35,286.53A49.00,49.00 0 0 0 817.16,283.74ZM821.66,297.85L826.35,286.53A49.00,49.00 0 0 1 834.82,291.06L828.02,301.24A36.75,36.75 0 0 0 821.66,297.85Z"/>
<path fill="#0b6569" d="M807.60,282.80L807.60,270.55A61.25,61.25 0 0 1 819.55,271.73L817.16,283.74A49.00,49.00 0 0 0 807.60,282.80ZM790.87,247.70L788.48,235.68A98.00,98.00 0 0 1 807.60,233.80L807.60,246.05A85.75,85.75 0 0 0 790.87,247.70Z"/>
<path fill="#282d4c" d="M807.60,258.30L807.60,246.05A85.75,85.75 0 0 1 824.33,247.70L821.94,259.71A73.50,73.50 0 0 0 807.60,258.30ZM819.55,271.73L821.94,259.71A73.50,73.50 0 0 1 835.73,263.89L831.04,275.21A61.25,61.25 0 0 0 819.55,271.73ZM793.26,259.71L790.87,247.70A85.75,85.75 0 0 1 807.60,246.05L807.60,258.30A73.50,73.50 0 0 0 793.26,259.71Z"/>
<path fill="#231b3b" d="M779.47,263.89L774.78,252.58A85.75,85.75 0 0 1 790.87,247.70L793.26,259.71A73.50,73.50 0 0 0 779.47,263.89Z"/>
</g>
<path d="M808.5,331.8L808.5,97.40M807.6,332.2L973.35,166.45M807.6,332.45L1042.00,332.45M807.6,332.2L973.35,497.95M808.5,331.8L808.5,566.20M807.6,332.2L641.85,497.95M807.6,332.45L573.20,332.45M807.6,332.2L641.85,166.45" stroke="#b0b0b0" stroke-width="1.1" fill="none"/>
<circle cx="807.6" cy="331.8" r="46.12" stroke="#b0b0b0" stroke-width="1.1" fill="none"/>
<circle cx="807.6" cy="331.8" r="92.25" stroke="#b0b0b0" stroke-width="1.1" fill="none"/>
<circle cx="807.6" cy="331.8" r="138.38" stroke="#b0b0b0" stroke-width="1.1" fill="none"/>
<circle cx="807.6" cy="331.8" r="184.50" stroke="#b0b0b0" stroke-width="1.1" fill="none"/>
<circle cx="807.6" cy="331.8" r="230.62" stroke="#b0b0b0" stroke-width="1.1" fill="none"/>
<circle cx="807.6" cy="331.8" r="234.4" stroke="#000" stroke-width="1.1" fill="none"/>
<text x="850.4" y="310.3" font-size="19.2">0.25</text>
<text x="893.0" y="292.7" font-size="19.2">0.50</text>
<text x="935.6" y="275.0" font-size="19.2">0.75</text>
<text x="978.3" y="257.4" font-size="19.2">1.00</text>
<text x="1020.9" y="239.7" font-size="19.2">1.25</text>
<text x="808.4" y="83.9" font-size="19.44" text-anchor="middle">N</text>
<text x="808.3" y="590.9" font-size="19.44" text-anchor="middle">S</text>
<text x="1056.0" y="337.6" font-size="19.44">E</text>
<text x="555.0" y="337.6" font-size="19.44" text-anchor="middle">W</text>
</g>
<g>
<text x="1342.0" y="59.7" font-size="24.9" text-anchor="middle">CIOFS-NWGOA</text>
<circle cx="1341.55" cy="331.8" r="234.4" fill="#eeedf3"/>
<g shape-rendering="crispEdges">
<path fill="#e5dcd9" d="M1341.55,319.55L1341.55,295.05A36.75,36.75 0 0 1 1348.72,295.76L1343.94,319.79A12.25,12.25 0 0 0 1341.55,319.55ZM1341.55,184.80L1341.55,160.30A171.50,171.50 0 0 1 1375.01,163.60L1370.23,187.62A147.00,147.00 0 0 0 1341.55,184.80ZM1343.94,319.79L1346.33,307.77A24.50,24.50 0 0 1 1350.93,309.16L1346.24,320.48A12.25,12.25 0 0 0 1343.94,319.79ZM1365.45,211.65L1370.23,187.62A147.00,147.00 0 0 1 1397.80,195.99L1388.43,218.62A122.50,122.50 0 0 0 1365.45,211.65ZM1346.24,320.48L1350.93,309.16A24.50,24.50 0 0 1 1355.16,311.43L1348.36,321.61A12.25,12.25 0 0 0 1346.24,320.48ZM1388.43,218.62L1393.12,207.31A134.75,134.75 0 0 1 1416.41,219.76L1409.61,229.94A122.50,122.50 0 0 0 1388.43,218.62ZM1402.49,184.67L1407.18,173.35A171.50,171.50 0 0 1 1436.83,189.20L1430.02,199.39A159.25,159.25 0 0 0 1402.49,184.67ZM1348.36,321.61L1355.16,311.43A24.50,24.50 0 0 1 1358.87,314.48L1350.21,323.14A12.25,12.25 0 0 0 1348.36,321.61ZM1375.58,280.87L1382.38,270.69A73.50,73.50 0 0 1 1393.52,279.83L1384.86,288.49A61.25,61.25 0 0 0 1375.58,280.87ZM1396.00,250.32L1402.80,240.13A110.25,110.25 0 0 1 1419.51,253.84L1410.85,262.50A98.00,98.00 0 0 0 1396.00,250.32ZM1350.21,323.14L1358.87,314.48A24.50,24.50 0 0 1 1361.92,318.19L1351.74,324.99A12.25,12.25 0 0 0 1350.21,323.14ZM1393.52,279.83L1402.18,271.17A85.75,85.75 0 0 1 1412.85,284.16L1402.66,290.97A73.50,73.50 0 0 0 1393.52,279.83ZM1361.92,318.19L1372.11,311.38A36.75,36.75 0 0 1 1375.50,317.74L1364.19,322.42A24.50,24.50 0 0 0 1361.92,318.19ZM1377.59,324.63L1389.61,322.24A49.00,49.00 0 0 1 1390.55,331.80L1378.30,331.80A36.75,36.75 0 0 0 1377.59,324.63ZM1353.80,331.80L1366.05,331.80A24.50,24.50 0 0 1 1365.58,336.58L1353.56,334.19A12.25,12.25 0 0 0 1353.80,331.80ZM1390.55,331.80L1402.80,331.80A61.25,61.25 0 0 1 1401.62,343.75L1389.61,341.36A49.00,49.00 0 0 0 1390.55,331.80ZM1353.56,334.19L1365.58,336.58A24.50,24.50 0 0 1 1364.19,341.18L1352.87,336.49A12.25,12.25 0 0 0 1353.56,334.19ZM1389.61,341.36L1401.62,343.75A61.25,61.25 0 0 1 1398.14,355.24L1386.82,350.55A49.00,49.00 0 0 0 1389.61,341.36ZM1413.64,346.14L1425.65,348.53A85.75,85.75 0 0 1 1420.77,364.62L1409.46,359.93A73.50,73.50 0 0 0 1413.64,346.14ZM1402.18,392.43L1410.85,401.10A98.00,98.00 0 0 1 1396.00,413.28L1389.19,403.10A85.75,85.75 0 0 0 1402.18,392.43ZM1361.97,362.36L1368.77,372.54A49.00,49.00 0 0 1 1360.30,377.07L1355.61,365.75A36.75,36.75 0 0 0 1361.97,362.36ZM1396.00,413.28L1402.80,423.47A110.25,110.25 0 0 1 1383.74,433.66L1379.05,422.34A98.00,98.00 0 0 0 1396.00,413.28ZM1364.99,388.39L1374.37,411.02A85.75,85.75 0 0 1 1358.28,415.90L1353.50,391.87A61.25,61.25 0 0 0 1364.99,388.39ZM1388.43,444.98L1393.12,456.29A134.75,134.75 0 0 1 1367.84,463.96L1365.45,451.95A122.50,122.50 0 0 0 1388.43,444.98ZM1341.55,356.30L1341.55,368.55A36.75,36.75 0 0 1 1334.38,367.84L1336.77,355.83A24.50,24.50 0 0 0 1341.55,356.30ZM1341.55,491.05L1341.55,503.30A171.50,171.50 0 0 1 1308.09,500.00L1310.48,487.99A159.25,159.25 0 0 0 1341.55,491.05ZM1331.99,379.86L1329.60,391.87A61.25,61.25 0 0 1 1318.11,388.39L1322.80,377.07A49.00,49.00 0 0 0 1331.99,379.86ZM1317.65,451.95L1315.26,463.96A134.75,134.75 0 0 1 1289.98,456.29L1294.67,444.98A122.50,122.50 0 0 0 1317.65,451.95ZM1332.17,354.44L1327.49,365.75A36.75,36.75 0 0 1 1321.13,362.36L1327.94,352.17A24.50,24.50 0 0 0 1332.17,354.44ZM1285.30,467.61L1280.61,478.93A159.25,159.25 0 0 1 1253.08,464.21L1259.88,454.03A147.00,147.00 0 0 0 1285.30,467.61ZM1327.94,352.17L1321.13,362.36A36.75,36.75 0 0 1 1315.56,357.79L1324.23,349.12A24.50,24.50 0 0 0 1327.94,352.17ZM1306.90,366.45L1298.24,375.11A61.25,61.25 0 0 1 1290.62,365.83L1300.81,359.02A49.00,49.00 0 0 0 1306.90,366.45ZM1289.58,383.77L1272.25,401.10A98.00,98.00 0 0 1 1260.07,386.25L1280.44,372.63A73.50,73.50 0 0 0 1289.58,383.77ZM1263.59,409.76L1254.93,418.42A122.50,122.50 0 0 1 1239.69,399.86L1249.88,393.05A110.25,110.25 0 0 0 1263.59,409.76ZM1260.07,386.25L1249.88,393.05A110.25,110.25 0 0 1 1239.69,373.99L1251.01,369.30A98.00,98.00 0 0 0 1260.07,386.25ZM1330.23,336.49L1318.91,341.18A24.50,24.50 0 0 1 1317.52,336.58L1329.54,334.19A12.25,12.25 0 0 0 1330.23,336.49ZM1329.54,334.19L1317.52,336.58A24.50,24.50 0 0 1 1317.05,331.80L1329.30,331.80A12.25,12.25 0 0 0 1329.54,334.19ZM1269.46,346.14L1233.42,353.31A110.25,110.25 0 0 1 1231.30,331.80L1268.05,331.80A73.50,73.50 0 0 0 1269.46,346.14ZM1329.30,331.80L1317.05,331.80A24.50,24.50 0 0 1 1317.52,327.02L1329.54,329.41A12.25,12.25 0 0 0 1329.30,331.80ZM1304.80,331.80L1292.55,331.80A49.00,49.00 0 0 1 1293.49,322.24L1305.51,324.63A36.75,36.75 0 0 0 1304.80,331.80ZM1280.30,331.80L1268.05,331.80A73.50,73.50 0 0 1 1269.46,317.46L1281.48,319.85A61.25,61.25 0 0 0 1280.30,331.80ZM1219.05,331.80L1206.80,331.80A134.75,134.75 0 0 1 1209.39,305.51L1221.40,307.90A122.50,122.50 0 0 0 1219.05,331.80ZM1257.45,315.07L1245.43,312.68A98.00,98.00 0 0 1 1251.01,294.30L1262.33,298.98A85.75,85.75 0 0 0 1257.45,315.07ZM1318.91,322.42L1307.60,317.74A36.75,36.75 0 0 1 1310.99,311.38L1321.18,318.19A24.50,24.50 0 0 0 1318.91,322.42ZM1262.33,298.98L1251.01,294.30A98.00,98.00 0 0 1 1260.07,277.35L1270.25,284.16A85.75,85.75 0 0 0 1262.33,298.98ZM1270.25,284.16L1260.07,277.35A98.00,98.00 0 0 1 1272.25,262.50L1280.92,271.17A85.75,85.75 0 0 0 1270.25,284.16ZM1239.69,263.74L1229.51,256.94A134.75,134.75 0 0 1 1246.27,236.52L1254.93,245.18A122.50,122.50 0 0 0 1239.69,263.74ZM1254.93,245.18L1246.27,236.52A134.75,134.75 0 0 1 1266.69,219.76L1273.49,229.94A122.50,122.50 0 0 0 1254.93,245.18ZM1334.74,321.61L1327.94,311.43A24.50,24.50 0 0 1 1332.17,309.16L1336.86,320.48A12.25,12.25 0 0 0 1334.74,321.61ZM1287.10,250.32L1280.30,240.13A110.25,110.25 0 0 1 1299.36,229.94L1304.05,241.26A98.00,98.00 0 0 0 1287.10,250.32ZM1336.86,320.48L1332.17,309.16A24.50,24.50 0 0 1 1336.77,307.77L1339.16,319.79A12.25,12.25 0 0 0 1336.86,320.48ZM1294.67,218.62L1280.61,184.67A159.25,159.25 0 0 1 1310.48,175.61L1317.65,211.65A122.50,122.50 0 0 0 1294.67,218.62ZM1339.16,319.79L1334.38,295.76A36.75,36.75 0 0 1 1341.55,295.05L1341.55,319.55A12.25,12.25 0 0 0 1339.16,319.79ZM1312.87,187.62L1310.48,175.61A159.25,159.25 0 0 1 1341.55,172.55L1341.55,184.80A147.00,147.00 0 0 0 1312.87,187.62Z"/>
<path fill="#dcc9b6" d="M1341.55,221.55L1341.55,209.30A122.50,122.50 0 0 1 1365.45,211.65L1363.06,223.67A110.25,110.25 0 0 0 1341.55,221.55ZM1341.55,197.05L1341.55,184.80A147.00,147.00 0 0 1 1370.23,187.62L1367.84,199.64A134.75,134.75 0 0 0 1341.55,197.05ZM1348.72,295.76L1351.11,283.74A49.00,49.00 0 0 1 1360.30,286.53L1355.61,297.85A36.75,36.75 0 0 0 1348.72,295.76ZM1363.06,223.67L1365.45,211.65A122.50,122.50 0 0 1 1388.43,218.62L1383.74,229.94A110.25,110.25 0 0 0 1363.06,223.67ZM1374.37,252.58L1379.05,241.26A98.00,98.00 0 0 1 1396.00,250.32L1389.19,260.50A85.75,85.75 0 0 0 1374.37,252.58ZM1355.16,311.43L1361.97,301.24A36.75,36.75 0 0 1 1367.54,305.81L1358.87,314.48A24.50,24.50 0 0 0 1355.16,311.43ZM1389.19,260.50L1396.00,250.32A98.00,98.00 0 0 1 1410.85,262.50L1402.18,271.17A85.75,85.75 0 0 0 1389.19,260.50ZM1358.87,314.48L1376.20,297.15A49.00,49.00 0 0 1 1382.29,304.58L1361.92,318.19A24.50,24.50 0 0 0 1358.87,314.48ZM1372.11,311.38L1382.29,304.58A49.00,49.00 0 0 1 1386.82,313.05L1375.50,317.74A36.75,36.75 0 0 0 1372.11,311.38ZM1402.66,290.97L1412.85,284.16A85.75,85.75 0 0 1 1420.77,298.98L1409.46,303.67A73.50,73.50 0 0 0 1402.66,290.97ZM1364.19,322.42L1375.50,317.74A36.75,36.75 0 0 1 1377.59,324.63L1365.58,327.02A24.50,24.50 0 0 0 1364.19,322.42ZM1365.58,327.02L1377.59,324.63A36.75,36.75 0 0 1 1378.30,331.80L1366.05,331.80A24.50,24.50 0 0 0 1365.58,327.02ZM1366.05,331.80L1378.30,331.80A36.75,36.75 0 0 1 1377.59,338.97L1365.58,336.58A24.50,24.50 0 0 0 1366.05,331.80ZM1365.58,336.58L1389.61,341.36A49.00,49.00 0 0 1 1386.82,350.55L1364.19,341.18A24.50,24.50 0 0 0 1365.58,336.58ZM1364.19,341.18L1375.50,345.86A36.75,36.75 0 0 1 1372.11,352.22L1361.92,345.41A24.50,24.50 0 0 0 1364.19,341.18ZM1361.92,345.41L1402.66,372.63A73.50,73.50 0 0 1 1393.52,383.77L1358.87,349.12A24.50,24.50 0 0 0 1361.92,345.41ZM1358.87,349.12L1376.20,366.45A49.00,49.00 0 0 1 1368.77,372.54L1355.16,352.17A24.50,24.50 0 0 0 1358.87,349.12ZM1393.52,383.77L1402.18,392.43A85.75,85.75 0 0 1 1389.19,403.10L1382.38,392.91A73.50,73.50 0 0 0 1393.52,383.77ZM1382.38,392.91L1389.19,403.10A85.75,85.75 0 0 1 1374.37,411.02L1369.68,399.71A73.50,73.50 0 0 0 1382.38,392.91ZM1350.93,354.44L1360.30,377.07A49.00,49.00 0 0 1 1351.11,379.86L1346.33,355.83A24.50,24.50 0 0 0 1350.93,354.44ZM1383.74,433.66L1388.43,444.98A122.50,122.50 0 0 1 1365.45,451.95L1363.06,439.93A110.25,110.25 0 0 0 1383.74,433.66ZM1346.33,355.83L1348.72,367.84A36.75,36.75 0 0 1 1341.55,368.55L1341.55,356.30A24.50,24.50 0 0 0 1346.33,355.83ZM1351.11,379.86L1355.89,403.89A73.50,73.50 0 0 1 1341.55,405.30L1341.55,380.80A49.00,49.00 0 0 0 1351.11,379.86ZM1365.45,451.95L1367.84,463.96A134.75,134.75 0 0 1 1341.55,466.55L1341.55,454.30A122.50,122.50 0 0 0 1365.45,451.95ZM1341.55,344.05L1341.55,356.30A24.50,24.50 0 0 1 1336.77,355.83L1339.16,343.81A12.25,12.25 0 0 0 1341.55,344.05ZM1339.16,343.81L1336.77,355.83A24.50,24.50 0 0 1 1332.17,354.44L1336.86,343.12A12.25,12.25 0 0 0 1339.16,343.81ZM1315.26,463.96L1312.87,475.98A147.00,147.00 0 0 1 1285.30,467.61L1289.98,456.29A134.75,134.75 0 0 0 1315.26,463.96ZM1336.86,343.12L1332.17,354.44A24.50,24.50 0 0 1 1327.94,352.17L1334.74,341.99A12.25,12.25 0 0 0 1336.86,343.12ZM1294.67,444.98L1289.98,456.29A134.75,134.75 0 0 1 1266.69,443.84L1273.49,433.66A122.50,122.50 0 0 0 1294.67,444.98ZM1300.72,392.91L1280.30,423.47A110.25,110.25 0 0 1 1263.59,409.76L1289.58,383.77A73.50,73.50 0 0 0 1300.72,392.91ZM1315.56,357.79L1306.90,366.45A49.00,49.00 0 0 1 1300.81,359.02L1310.99,352.22A36.75,36.75 0 0 0 1315.56,357.79ZM1300.81,359.02L1290.62,365.83A61.25,61.25 0 0 1 1284.96,355.24L1296.28,350.55A49.00,49.00 0 0 0 1300.81,359.02ZM1280.44,372.63L1260.07,386.25A98.00,98.00 0 0 1 1251.01,369.30L1273.64,359.93A73.50,73.50 0 0 0 1280.44,372.63ZM1307.60,345.86L1296.28,350.55A49.00,49.00 0 0 1 1293.49,341.36L1305.51,338.97A36.75,36.75 0 0 0 1307.60,345.86ZM1273.64,359.93L1251.01,369.30A98.00,98.00 0 0 1 1245.43,350.92L1269.46,346.14A73.50,73.50 0 0 0 1273.64,359.93ZM1293.49,341.36L1281.48,343.75A61.25,61.25 0 0 1 1280.30,331.80L1292.55,331.80A49.00,49.00 0 0 0 1293.49,341.36ZM1268.05,331.80L1243.55,331.80A98.00,98.00 0 0 1 1245.43,312.68L1269.46,317.46A73.50,73.50 0 0 0 1268.05,331.80ZM1317.52,327.02L1305.51,324.63A36.75,36.75 0 0 1 1307.60,317.74L1318.91,322.42A24.50,24.50 0 0 0 1317.52,327.02ZM1321.18,318.19L1310.99,311.38A36.75,36.75 0 0 1 1315.56,305.81L1324.23,314.48A24.50,24.50 0 0 0 1321.18,318.19ZM1260.07,277.35L1249.88,270.55A110.25,110.25 0 0 1 1263.59,253.84L1272.25,262.50A98.00,98.00 0 0 0 1260.07,277.35ZM1327.94,311.43L1321.13,301.24A36.75,36.75 0 0 1 1327.49,297.85L1332.17,309.16A24.50,24.50 0 0 0 1327.94,311.43ZM1320.04,223.67L1315.26,199.64A134.75,134.75 0 0 1 1341.55,197.05L1341.55,221.55A110.25,110.25 0 0 0 1320.04,223.67Z"/>
<path fill="#cbbb92" d="M1341.55,295.05L1341.55,282.80A49.00,49.00 0 0 1 1351.11,283.74L1348.72,295.76A36.75,36.75 0 0 0 1341.55,295.05ZM1351.11,283.74L1353.50,271.73A61.25,61.25 0 0 1 1364.99,275.21L1360.30,286.53A49.00,49.00 0 0 0 1351.11,283.74ZM1350.93,309.16L1355.61,297.85A36.75,36.75 0 0 1 1361.97,301.24L1355.16,311.43A24.50,24.50 0 0 0 1350.93,309.16ZM1383.74,229.94L1388.43,218.62A122.50,122.50 0 0 1 1409.61,229.94L1402.80,240.13A110.25,110.25 0 0 0 1383.74,229.94ZM1368.77,291.06L1375.58,280.87A61.25,61.25 0 0 1 1384.86,288.49L1376.20,297.15A49.00,49.00 0 0 0 1368.77,291.06ZM1375.50,317.74L1386.82,313.05A49.00,49.00 0 0 1 1389.61,322.24L1377.59,324.63A36.75,36.75 0 0 0 1375.50,317.74ZM1376.20,366.45L1384.86,375.11A61.25,61.25 0 0 1 1375.58,382.73L1368.77,372.54A49.00,49.00 0 0 0 1376.20,366.45ZM1355.16,352.17L1361.97,362.36A36.75,36.75 0 0 1 1355.61,365.75L1350.93,354.44A24.50,24.50 0 0 0 1355.16,352.17ZM1379.05,422.34L1383.74,433.66A110.25,110.25 0 0 1 1363.06,439.93L1360.67,427.92A98.00,98.00 0 0 0 1379.05,422.34ZM1360.67,427.92L1363.06,439.93A110.25,110.25 0 0 1 1341.55,442.05L1341.55,429.80A98.00,98.00 0 0 0 1360.67,427.92ZM1367.84,463.96L1370.23,475.98A147.00,147.00 0 0 1 1341.55,478.80L1341.55,466.55A134.75,134.75 0 0 0 1367.84,463.96ZM1341.55,368.55L1341.55,380.80A49.00,49.00 0 0 1 1331.99,379.86L1334.38,367.84A36.75,36.75 0 0 0 1341.55,368.55ZM1341.55,466.55L1341.55,478.80A147.00,147.00 0 0 1 1312.87,475.98L1315.26,463.96A134.75,134.75 0 0 0 1341.55,466.55ZM1334.38,367.84L1331.99,379.86A49.00,49.00 0 0 1 1322.80,377.07L1327.49,365.75A36.75,36.75 0 0 0 1334.38,367.84ZM1327.49,365.75L1318.11,388.39A61.25,61.25 0 0 1 1307.52,382.73L1321.13,362.36A36.75,36.75 0 0 0 1327.49,365.75ZM1299.36,433.66L1294.67,444.98A122.50,122.50 0 0 1 1273.49,433.66L1280.30,423.47A110.25,110.25 0 0 0 1299.36,433.66ZM1314.33,372.54L1307.52,382.73A61.25,61.25 0 0 1 1298.24,375.11L1306.90,366.45A49.00,49.00 0 0 0 1314.33,372.54ZM1280.30,423.47L1273.49,433.66A122.50,122.50 0 0 1 1254.93,418.42L1263.59,409.76A110.25,110.25 0 0 0 1280.30,423.47ZM1298.24,375.11L1289.58,383.77A73.50,73.50 0 0 1 1280.44,372.63L1290.62,365.83A61.25,61.25 0 0 0 1298.24,375.11ZM1272.25,401.10L1263.59,409.76A110.25,110.25 0 0 1 1249.88,393.05L1260.07,386.25A98.00,98.00 0 0 0 1272.25,401.10ZM1296.28,350.55L1284.96,355.24A61.25,61.25 0 0 1 1281.48,343.75L1293.49,341.36A49.00,49.00 0 0 0 1296.28,350.55ZM1317.52,336.58L1305.51,338.97A36.75,36.75 0 0 1 1304.80,331.80L1317.05,331.80A24.50,24.50 0 0 0 1317.52,336.58ZM1292.55,331.80L1280.30,331.80A61.25,61.25 0 0 1 1281.48,319.85L1293.49,322.24A49.00,49.00 0 0 0 1292.55,331.80ZM1281.48,319.85L1257.45,315.07A85.75,85.75 0 0 1 1262.33,298.98L1284.96,308.36A61.25,61.25 0 0 0 1281.48,319.85ZM1273.64,303.67L1262.33,298.98A85.75,85.75 0 0 1 1270.25,284.16L1280.44,290.97A73.50,73.50 0 0 0 1273.64,303.67ZM1310.99,311.38L1300.81,304.58A49.00,49.00 0 0 1 1306.90,297.15L1315.56,305.81A36.75,36.75 0 0 0 1310.99,311.38ZM1332.89,323.14L1315.56,305.81A36.75,36.75 0 0 1 1321.13,301.24L1334.74,321.61A12.25,12.25 0 0 0 1332.89,323.14ZM1321.13,301.24L1314.33,291.06A49.00,49.00 0 0 1 1322.80,286.53L1327.49,297.85A36.75,36.75 0 0 0 1321.13,301.24ZM1327.49,297.85L1322.80,286.53A49.00,49.00 0 0 1 1331.99,283.74L1334.38,295.76A36.75,36.75 0 0 0 1327.49,297.85Z"/>
<path fill="#a6b187" d="M1355.89,259.71L1358.28,247.70A85.75,85.75 0 0 1 1374.37,252.58L1369.68,263.89A73.50,73.50 0 0 0 1355.89,259.71ZM1360.67,235.68L1363.06,223.67A110.25,110.25 0 0 1 1383.74,229.94L1379.05,241.26A98.00,98.00 0 0 0 1360.67,235.68ZM1369.68,263.89L1374.37,252.58A85.75,85.75 0 0 1 1389.19,260.50L1382.38,270.69A73.50,73.50 0 0 0 1369.68,263.89ZM1361.97,301.24L1368.77,291.06A49.00,49.00 0 0 1 1376.20,297.15L1367.54,305.81A36.75,36.75 0 0 0 1361.97,301.24ZM1378.30,331.80L1390.55,331.80A49.00,49.00 0 0 1 1389.61,341.36L1377.59,338.97A36.75,36.75 0 0 0 1378.30,331.80ZM1375.50,345.86L1386.82,350.55A49.00,49.00 0 0 1 1382.29,359.02L1372.11,352.22A36.75,36.75 0 0 0 1375.50,345.86ZM1384.86,375.11L1393.52,383.77A73.50,73.50 0 0 1 1382.38,392.91L1375.58,382.73A61.25,61.25 0 0 0 1384.86,375.11ZM1375.58,382.73L1382.38,392.91A73.50,73.50 0 0 1 1369.68,399.71L1364.99,388.39A61.25,61.25 0 0 0 1375.58,382.73ZM1360.30,377.07L1364.99,388.39A61.25,61.25 0 0 1 1353.50,391.87L1351.11,379.86A49.00,49.00 0 0 0 1360.30,377.07ZM1358.28,415.90L1360.67,427.92A98.00,98.00 0 0 1 1341.55,429.80L1341.55,417.55A85.75,85.75 0 0 0 1358.28,415.90ZM1341.55,405.30L1341.55,417.55A85.75,85.75 0 0 1 1324.82,415.90L1327.21,403.89A73.50,73.50 0 0 0 1341.55,405.30ZM1341.55,442.05L1341.55,454.30A122.50,122.50 0 0 1 1317.65,451.95L1320.04,439.93A110.25,110.25 0 0 0 1341.55,442.05ZM1304.05,422.34L1299.36,433.66A110.25,110.25 0 0 1 1280.30,423.47L1287.10,413.28A98.00,98.00 0 0 0 1304.05,422.34ZM1321.13,362.36L1314.33,372.54A49.00,49.00 0 0 1 1306.90,366.45L1315.56,357.79A36.75,36.75 0 0 0 1321.13,362.36ZM1290.62,365.83L1280.44,372.63A73.50,73.50 0 0 1 1273.64,359.93L1284.96,355.24A61.25,61.25 0 0 0 1290.62,365.83ZM1318.91,341.18L1307.60,345.86A36.75,36.75 0 0 1 1305.51,338.97L1317.52,336.58A24.50,24.50 0 0 0 1318.91,341.18ZM1329.54,329.41L1317.52,327.02A24.50,24.50 0 0 1 1318.91,322.42L1330.23,327.11A12.25,12.25 0 0 0 1329.54,329.41ZM1293.49,322.24L1281.48,319.85A61.25,61.25 0 0 1 1284.96,308.36L1296.28,313.05A49.00,49.00 0 0 0 1293.49,322.24ZM1307.60,317.74L1296.28,313.05A49.00,49.00 0 0 1 1300.81,304.58L1310.99,311.38A36.75,36.75 0 0 0 1307.60,317.74ZM1284.96,308.36L1273.64,303.67A73.50,73.50 0 0 1 1280.44,290.97L1290.62,297.77A61.25,61.25 0 0 0 1284.96,308.36ZM1300.81,304.58L1280.44,290.97A73.50,73.50 0 0 1 1289.58,279.83L1306.90,297.15A49.00,49.00 0 0 0 1300.81,304.58ZM1314.33,291.06L1307.52,280.87A61.25,61.25 0 0 1 1318.11,275.21L1322.80,286.53A49.00,49.00 0 0 0 1314.33,291.06ZM1332.17,309.16L1327.49,297.85A36.75,36.75 0 0 1 1334.38,295.76L1336.77,307.77A24.50,24.50 0 0 0 1332.17,309.16Z"/>
<path fill="#89a97f" d="M1341.55,282.80L1341.55,270.55A61.25,61.25 0 0 1 1353.50,271.73L1351.11,283.74A49.00,49.00 0 0 0 1341.55,282.80ZM1341.55,246.05L1341.55,233.80A98.00,98.00 0 0 1 1360.67,235.68L1358.28,247.70A85.75,85.75 0 0 0 1341.55,246.05ZM1360.30,286.53L1369.68,263.89A73.50,73.50 0 0 1 1382.38,270.69L1368.77,291.06A49.00,49.00 0 0 0 1360.30,286.53ZM1389.19,403.10L1396.00,413.28A98.00,98.00 0 0 1 1379.05,422.34L1374.37,411.02A85.75,85.75 0 0 0 1389.19,403.10ZM1341.55,429.80L1341.55,442.05A110.25,110.25 0 0 1 1320.04,439.93L1322.43,427.92A98.00,98.00 0 0 0 1341.55,429.80ZM1336.77,355.83L1334.38,367.84A36.75,36.75 0 0 1 1327.49,365.75L1332.17,354.44A24.50,24.50 0 0 0 1336.77,355.83ZM1324.82,415.90L1322.43,427.92A98.00,98.00 0 0 1 1304.05,422.34L1308.73,411.02A85.75,85.75 0 0 0 1324.82,415.90ZM1313.42,399.71L1308.73,411.02A85.75,85.75 0 0 1 1293.91,403.10L1300.72,392.91A73.50,73.50 0 0 0 1313.42,399.71ZM1281.48,343.75L1269.46,346.14A73.50,73.50 0 0 1 1268.05,331.80L1280.30,331.80A61.25,61.25 0 0 0 1281.48,343.75ZM1280.44,290.97L1270.25,284.16A85.75,85.75 0 0 1 1280.92,271.17L1289.58,279.83A73.50,73.50 0 0 0 1280.44,290.97ZM1298.24,288.49L1289.58,279.83A73.50,73.50 0 0 1 1300.72,270.69L1307.52,280.87A61.25,61.25 0 0 0 1298.24,288.49ZM1280.92,271.17L1272.25,262.50A98.00,98.00 0 0 1 1287.10,250.32L1293.91,260.50A85.75,85.75 0 0 0 1280.92,271.17ZM1293.91,260.50L1287.10,250.32A98.00,98.00 0 0 1 1304.05,241.26L1308.73,252.58A85.75,85.75 0 0 0 1293.91,260.50ZM1318.11,275.21L1313.42,263.89A73.50,73.50 0 0 1 1327.21,259.71L1329.60,271.73A61.25,61.25 0 0 0 1318.11,275.21ZM1334.38,295.76L1329.60,271.73A61.25,61.25 0 0 1 1341.55,270.55L1341.55,295.05A36.75,36.75 0 0 0 1334.38,295.76ZM1327.21,259.71L1324.82,247.70A85.75,85.75 0 0 1 1341.55,246.05L1341.55,258.30A73.50,73.50 0 0 0 1327.21,259.71Z"/>
<path fill="#68a079" d="M1355.61,297.85L1360.30,286.53A49.00,49.00 0 0 1 1368.77,291.06L1361.97,301.24A36.75,36.75 0 0 0 1355.61,297.85ZM1368.77,372.54L1375.58,382.73A61.25,61.25 0 0 1 1364.99,388.39L1360.30,377.07A49.00,49.00 0 0 0 1368.77,372.54ZM1374.37,411.02L1379.05,422.34A98.00,98.00 0 0 1 1360.67,427.92L1358.28,415.90A85.75,85.75 0 0 0 1374.37,411.02ZM1348.72,367.84L1351.11,379.86A49.00,49.00 0 0 1 1341.55,380.80L1341.55,368.55A36.75,36.75 0 0 0 1348.72,367.84ZM1355.89,403.89L1358.28,415.90A85.75,85.75 0 0 1 1341.55,417.55L1341.55,405.30A73.50,73.50 0 0 0 1355.89,403.89ZM1363.06,439.93L1365.45,451.95A122.50,122.50 0 0 1 1341.55,454.30L1341.55,442.05A110.25,110.25 0 0 0 1363.06,439.93ZM1341.55,393.05L1341.55,405.30A73.50,73.50 0 0 1 1327.21,403.89L1329.60,391.87A61.25,61.25 0 0 0 1341.55,393.05ZM1341.55,417.55L1341.55,429.80A98.00,98.00 0 0 1 1322.43,427.92L1324.82,415.90A85.75,85.75 0 0 0 1341.55,417.55ZM1308.73,411.02L1304.05,422.34A98.00,98.00 0 0 1 1287.10,413.28L1293.91,403.10A85.75,85.75 0 0 0 1308.73,411.02ZM1307.52,382.73L1300.72,392.91A73.50,73.50 0 0 1 1289.58,383.77L1298.24,375.11A61.25,61.25 0 0 0 1307.52,382.73ZM1284.96,355.24L1273.64,359.93A73.50,73.50 0 0 1 1269.46,346.14L1281.48,343.75A61.25,61.25 0 0 0 1284.96,355.24ZM1306.90,297.15L1298.24,288.49A61.25,61.25 0 0 1 1307.52,280.87L1314.33,291.06A49.00,49.00 0 0 0 1306.90,297.15ZM1322.80,286.53L1318.11,275.21A61.25,61.25 0 0 1 1329.60,271.73L1331.99,283.74A49.00,49.00 0 0 0 1322.80,286.53ZM1308.73,252.58L1299.36,229.94A110.25,110.25 0 0 1 1320.04,223.67L1324.82,247.70A85.75,85.75 0 0 0 1308.73,252.58ZM1329.60,271.73L1327.21,259.71A73.50,73.50 0 0 1 1341.55,258.30L1341.55,270.55A61.25,61.25 0 0 0 1329.60,271.73Z"/>
<path fill="#3f9272" d="M1341.55,233.80L1341.55,221.55A110.25,110.25 0 0 1 1363.06,223.67L1360.67,235.68A98.00,98.00 0 0 0 1341.55,233.80ZM1341.55,209.30L1341.55,197.05A134.75,134.75 0 0 1 1367.84,199.64L1365.45,211.65A122.50,122.50 0 0 0 1341.55,209.30ZM1341.55,380.80L1341.55,393.05A61.25,61.25 0 0 1 1329.60,391.87L1331.99,379.86A49.00,49.00 0 0 0 1341.55,380.80ZM1329.60,391.87L1327.21,403.89A73.50,73.50 0 0 1 1313.42,399.71L1318.11,388.39A61.25,61.25 0 0 0 1329.60,391.87ZM1318.11,388.39L1313.42,399.71A73.50,73.50 0 0 1 1300.72,392.91L1307.52,382.73A61.25,61.25 0 0 0 1318.11,388.39ZM1315.56,305.81L1306.90,297.15A49.00,49.00 0 0 1 1314.33,291.06L1321.13,301.24A36.75,36.75 0 0 0 1315.56,305.81ZM1289.58,279.83L1280.92,271.17A85.75,85.75 0 0 1 1293.91,260.50L1300.72,270.69A73.50,73.50 0 0 0 1289.58,279.83ZM1307.52,280.87L1300.72,270.69A73.50,73.50 0 0 1 1313.42,263.89L1318.11,275.21A61.25,61.25 0 0 0 1307.52,280.87ZM1313.42,263.89L1308.73,252.58A85.75,85.75 0 0 1 1324.82,247.70L1327.21,259.71A73.50,73.50 0 0 0 1313.42,263.89ZM1322.43,235.68L1320.04,223.67A110.25,110.25 0 0 1 1341.55,221.55L1341.55,233.80A98.00,98.00 0 0 0 1322.43,235.68Z"/>
<path fill="#18836f" d="M1341.55,258.30L1341.55,246.05A85.75,85.75 0 0 1 1358.28,247.70L1355.89,259.71A73.50,73.50 0 0 0 1341.55,258.30ZM1353.50,271.73L1355.89,259.71A73.50,73.50 0 0 1 1369.68,263.89L1364.99,275.21A61.25,61.25 0 0 0 1353.50,271.73ZM1327.21,403.89L1324.82,415.90A85.75,85.75 0 0 1 1308.73,411.02L1313.42,399.71A73.50,73.50 0 0 0 1327.21,403.89ZM1324.23,349.12L1315.56,357.79A36.75,36.75 0 0 1 1310.99,352.22L1321.18,345.41A24.50,24.50 0 0 0 1324.23,349.12ZM1324.82,247.70L1322.43,235.68A98.00,98.00 0 0 1 1341.55,233.80L1341.55,246.05A85.75,85.75 0 0 0 1324.82,247.70Z"/>
<path fill="#05746e" d="M1358.28,247.70L1360.67,235.68A98.00,98.00 0 0 1 1379.05,241.26L1374.37,252.58A85.75,85.75 0 0 0 1358.28,247.70ZM1320.04,439.93L1317.65,451.95A122.50,122.50 0 0 1 1294.67,444.98L1299.36,433.66A110.25,110.25 0 0 0 1320.04,439.93ZM1300.72,270.69L1293.91,260.50A85.75,85.75 0 0 1 1308.73,252.58L1313.42,263.89A73.50,73.50 0 0 0 1300.72,270.69Z"/>
<path fill="#0b6569" d="M1341.55,270.55L1341.55,258.30A73.50,73.50 0 0 1 1355.89,259.71L1353.50,271.73A61.25,61.25 0 0 0 1341.55,270.55Z"/>
</g>
<path d="M1342.5,331.8L1342.5,97.40M1341.55,332.2L1507.30,166.45M1341.55,332.45L1575.95,332.45M1341.55,332.2L1507.30,497.95M1342.5,331.8L1342.5,566.20M1341.55,332.2L1175.80,497.95M1341.55,332.45L1107.15,332.45M1341.55,332.2L1175.80,166.45" stroke="#b0b0b0" stroke-width="1.1" fill="none"/>
<circle cx="1341.55" cy="331.8" r="46.12" stroke="#b0b0b0" stroke-width="1.1" fill="none"/>
<circle cx="1341.55" cy="331.8" r="92.25" stroke="#b0b0b0" stroke-width="1.1" fill="none"/>
<circle cx="1341.55" cy="331.8" r="138.38" stroke="#b0b0b0" stroke-width="1.1" fill="none"/>
<circle cx="1341.55" cy="331.8" r="184.50" stroke="#b0b0b0" stroke-width="1.1" fill="none"/>
<circle cx="1341.55" cy="331.8" r="230.62" stroke="#b0b0b0" stroke-width="1.1" fill="none"/>
<circle cx="1341.55" cy="331.8" r="234.4" stroke="#000" stroke-width="1.1" fill="none"/>
<text x="1384.4" y="310.3" font-size="19.2">0.25</text>
<text x="1427.0" y="292.7" font-size="19.2">0.50</text>
<text x="1469.6" y="275.0" font-size="19.2">0.75</text>
<text x="1512.2" y="257.4" font-size="19.2">1.00</text>
<text x="1554.8" y="239.7" font-size="19.2">1.25</text>
<text x="1342.5" y="83.9" font-size="19.44" text-anchor="middle">N</text>
<text x="1342.3" y="590.9" font-size="19.44" text-anchor="middle">S</text>
<text x="1590.0" y="337.6" font-size="19.44">E</text>
<text x="1088.9" y="337.6" font-size="19.44" text-anchor="middle">W</text>
</g>
<defs><linearGradient id="cb" x1="0" x2="1" y1="0" y2="0"><stop offset="0.0000" stop-color="#eeedf3"/><stop offset="0.0714" stop-color="#e5dcd9"/><stop offset="0.1429" stop-color="#dcc9b6"/><stop offset="0.2143" stop-color="#cbbb92"/><stop offset="0.2857" stop-color="#a6b187"/><stop offset="0.3571" stop-color="#89a97f"/><stop offset="0.4286" stop-color="#68a079"/><stop offset="0.5000" stop-color="#3f9272"/><stop offset="0.5714" stop-color="#18836f"/><stop offset="0.6429" stop-color="#05746e"/><stop offset="0.7143" stop-color="#0b6569"/><stop offset="0.7857" stop-color="#195264"/><stop offset="0.8571" stop-color="#243f5a"/><stop offset="0.9286" stop-color="#282d4c"/><stop offset="1.0000" stop-color="#231b3b"/></linearGradient></defs>
<rect x="406.2" y="605.4" width="800.3999999999999" height="29.800000000000068" fill="url(#cb)" stroke="#000" stroke-width="1.1"/>
<path d="M406.20,635.2V656.9" stroke="#000" stroke-width="1.1"/>
<text x="406.2" y="680.7" font-size="22.22" text-anchor="middle">0</text>
<path d="M520.54,635.2V656.9" stroke="#000" stroke-width="1.1"/>
<text x="520.5" y="680.7" font-size="22.22" text-anchor="middle">2</text>
<path d="M634.89,635.2V656.9" stroke="#000" stroke-width="1.1"/>
<text x="634.9" y="680.7" font-size="22.22" text-anchor="middle">4</text>
<path d="M749.23,635.2V656.9" stroke="#000" stroke-width="1.1"/>
<text x="749.2" y="680.7" font-size="22.22" text-anchor="middle">6</text>
<path d="M863.57,635.2V656.9" stroke="#000" stroke-width="1.1"/>
<text x="863.6" y="680.7" font-size="22.22" text-anchor="middle">8</text>
<path d="M977.91,635.2V656.9" stroke="#000" stroke-width="1.1"/>
<text x="977.4" y="680.7" font-size="22.22" text-anchor="middle">10</text>
<path d="M1092.26,635.2V656.9" stroke="#000" stroke-width="1.1"/>
<text x="1091.8" y="680.7" font-size="22.22" text-anchor="middle">12</text>
<path d="M1206.60,635.2V656.9" stroke="#000" stroke-width="1.1"/>
<text x="1206.1" y="680.7" font-size="22.22" text-anchor="middle">14</text>
<text x="805.5" y="708.5" font-size="22.22" text-anchor="middle">Currents [m/s] at COI0514; number of occurrences</text>
</svg></body></html>
